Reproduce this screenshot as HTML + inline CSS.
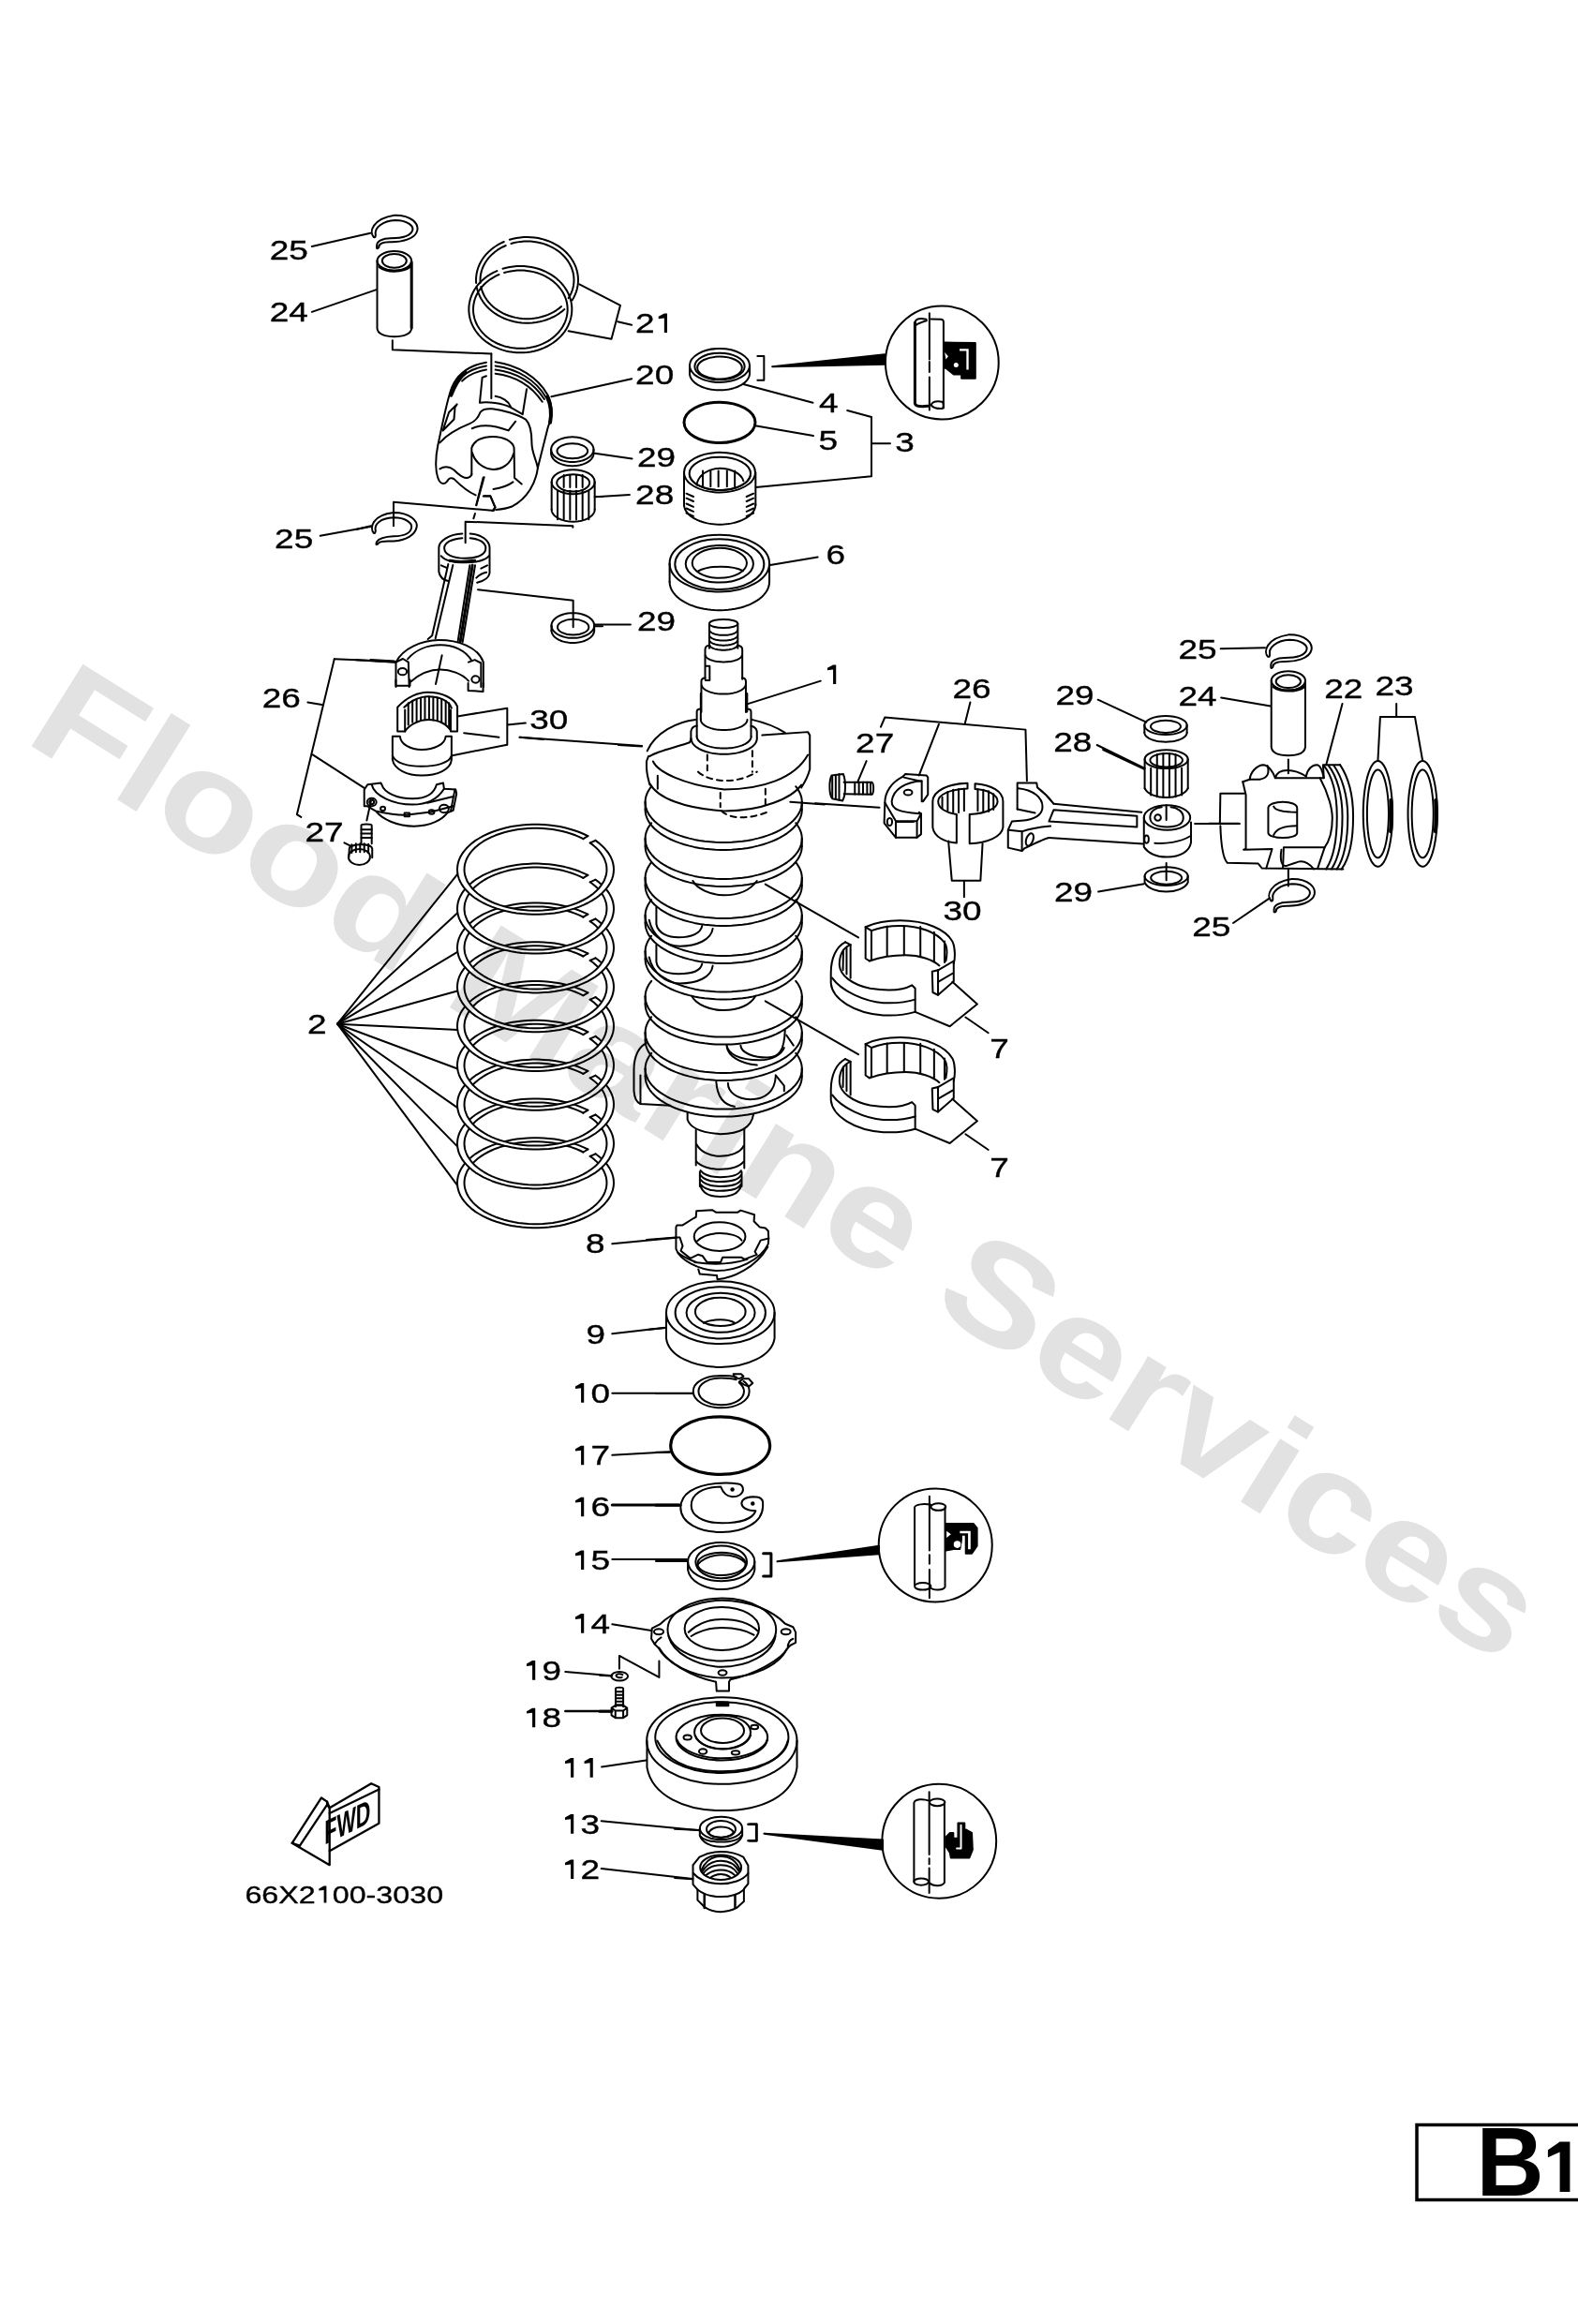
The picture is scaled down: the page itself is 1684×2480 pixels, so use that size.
<!DOCTYPE html>
<html><head><meta charset="utf-8"><style>
html,body{margin:0;padding:0;background:#fff;}
svg{display:block;}
.lb{font-family:"Liberation Sans",sans-serif;fill:#000;stroke:#000;stroke-width:0.35px;}
.wm{font-family:"Liberation Sans",sans-serif;font-weight:bold;fill:#e2e2e2;mix-blend-mode:multiply;}
.b1{font-family:"Liberation Sans",sans-serif;font-weight:bold;fill:#000;}
.d path,.d ellipse,.d line,.d polyline,.d polygon,.d circle,.d rect{fill:none;stroke:#000;vector-effect:non-scaling-stroke;stroke-linecap:round;stroke-linejoin:round;}
.d .f{fill:#000;}
</style></head><body>
<svg width="1684" height="2480" viewBox="0 0 1684 2480">
<rect width="1684" height="2480" fill="#fff"/>
<g class="d" stroke-width="2">
<g transform="translate(250,200) scale(0.166667)" stroke-width="2">
<path d="M893,318 C862,285 885,200 1025,178 C1140,176 1180,235 1172,275 C1160,330 1070,352 995,350 C955,350 925,362 925,385 Q908,402 913,372 C912,345 950,326 1000,326 C1070,326 1132,312 1142,272 C1148,248 1110,210 1030,210 C950,212 896,262 905,302 Q906,324 893,318 Z"/>
<ellipse cx="1025" cy="470" rx="110" ry="62"/>
<ellipse cx="1025" cy="470" rx="78" ry="44"/>
<path d="M930,508 C960,530 1000,535 1025,535 C1060,535 1100,528 1125,508" stroke-width="3"/>
<path d="M915,470 L915,900 C915,940 970,955 1025,955 C1080,955 1135,940 1135,900 L1135,470"/>
<path d="M1135,480 L1135,900" stroke-width="3"/>
<path d="M497,378 L872,292"/>
<path d="M497,797 L910,655"/>
<path d="M1013,980 L1013,1040 L1646,1065"/>
</g>
<g transform="translate(490,230) scale(0.166667)" stroke-width="2"><path d="M323.2,154.6 L345.2,148.6 L367.7,143.9 L390.5,140.6 L413.5,138.6 L436.7,138.0 L459.8,138.8 L482.8,141.0 L505.6,144.5 L528.0,149.4 L550.0,155.6 L571.4,163.1 L592.1,171.8 L612.0,181.8 L631.0,192.9 L649.0,205.1 L666.0,218.3 L681.8,232.6 L696.4,247.7 L709.6,263.7 L721.5,280.4 L731.9,297.8 L740.9,315.8 L748.3,334.2 L754.1,353.1 L758.4,372.2 L761.0,391.6 L762.0,411.0 L761.3,430.5 L759.0,449.9 L755.1,469.1 L749.6,488.0 L742.5,506.5 L733.9,524.6 L723.7,542.1"/><path d="M108.8,432.2 L108.0,412.1 L109.0,392.0 L111.6,372.1 L116.1,352.3 L122.2,332.9 L130.0,313.9 L139.4,295.4 L150.4,277.6 L162.9,260.5 L176.9,244.2 L192.2,228.8 L208.9,214.3 L226.7,201.0 L245.7,188.8 L265.7,177.7 L286.5,168.0"/><path d="M674.2,600.5 L657.6,614.4 L639.9,627.3 L621.2,639.1 L601.5,649.7 L581.0,659.1 L559.7,667.2 L537.8,674.1 L515.4,679.6 L492.5,683.7 L469.4,686.5 L446.0,687.8 L422.7,687.8 L399.4,686.4 L376.2,683.5 L353.4,679.3 L331.0,673.7 L309.1,666.8 L287.9,658.6 L267.4,649.1 L247.7,638.4 L229.1,626.6 L211.4,613.7 L195.0,599.8 L179.7,584.9 L165.8,569.1 L153.2,552.5 L142.1,535.2 L132.4,517.3 L124.3,498.9 L117.8,480.0 L113.0,460.8"/><path d="M332.4,180.0 L352.6,174.5 L373.2,170.3 L394.2,167.3 L415.3,165.5 L436.5,165.0 L457.8,165.7 L478.9,167.7 L499.8,170.9 L520.4,175.2 L540.5,180.8 L560.1,187.6 L579.1,195.5 L597.4,204.5 L614.8,214.5 L631.4,225.5 L646.9,237.5 L661.4,250.3 L674.8,264.0 L686.9,278.4 L697.8,293.4 L707.4,309.1 L715.6,325.3 L722.4,342.0 L727.8,359.0 L731.7,376.2 L734.1,393.7 L735.0,411.2 L734.4,428.8 L732.3,446.3 L728.7,463.6 L723.6,480.6 L717.1,497.3 L709.2,513.6 L699.9,529.4"/><path d="M135.7,430.3 L135.0,412.2 L135.9,394.1 L138.3,376.1 L142.4,358.3 L148.0,340.8 L155.2,323.6 L163.8,307.0 L173.9,290.9 L185.4,275.4 L198.2,260.7 L212.3,246.9 L227.5,233.9 L243.9,221.8 L261.3,210.8 L279.6,200.8 L298.8,192.0"/><path d="M654.4,582.1 L639.2,594.7 L623.0,606.3 L605.8,616.9 L587.8,626.4 L568.9,634.9 L549.4,642.3 L529.3,648.4 L508.7,653.4 L487.8,657.1 L466.5,659.6 L445.1,660.9 L423.7,660.8 L402.3,659.5 L381.1,657.0 L360.1,653.2 L339.6,648.1 L319.5,641.9 L300.0,634.5 L281.2,625.9 L263.2,616.3 L246.1,605.6 L229.9,594.0 L214.8,581.4 L200.8,568.0 L188.0,553.8 L176.5,538.8 L166.3,523.2 L157.4,507.1 L150.0,490.4 L144.0,473.4 L139.6,456.1"/><path d="M279.1,340.7 L301.1,334.7 L323.5,330.0 L346.3,326.7 L369.2,324.7 L392.3,324.0 L415.4,324.7 L438.4,326.7 L461.1,330.1 L483.5,334.9 L505.5,340.9 L526.9,348.2 L547.6,356.7 L567.6,366.5 L586.7,377.4 L604.9,389.3 L622.0,402.4 L638.0,416.3 L652.8,431.2 L666.3,447.0 L678.4,463.5 L689.2,480.6 L698.5,498.4 L706.3,516.6 L712.6,535.3 L717.3,554.3 L720.4,573.5 L721.9,592.8 L721.7,612.2 L720.0,631.5 L716.6,650.7 L711.7,669.7 L705.2,688.3 L697.2,706.4 L687.6,724.1 L676.6,741.2 L664.3,757.5 L650.5,773.1 L635.6,787.9 L619.4,801.7 L602.1,814.6 L583.8,826.4 L564.5,837.1 L544.4,846.7 L523.6,855.0 L502.1,862.1 L480.1,868.0 L457.6,872.5 L434.8,875.7 L411.8,877.5 L388.7,878.0 L365.7,877.1 L342.7,874.9 L320.0,871.3 L297.6,866.4 L275.8,860.2 L254.4,852.8 L233.8,844.1 L213.9,834.2 L194.9,823.2 L176.9,811.1 L159.9,797.9 L144.1,783.8 L129.4,768.8 L116.1,753.0 L104.1,736.4 L93.5,719.2 L84.4,701.3 L76.8,683.0 L70.7,664.3 L66.2,645.3 L63.4,626.1 L62.1,606.7 L62.4,587.3 L64.3,568.0 L67.9,548.8 L73.0,529.9 L79.7,511.4 L88.0,493.3 L97.7,475.7 L108.9,458.7 L121.4,442.4 L135.3,426.9 L150.4,412.3 L166.7,398.6 L184.2,385.8 L202.6,374.2 L222.0,363.6 L242.2,354.2"/><path d="M288.7,366.1 L308.8,360.7 L329.3,356.4 L350.1,353.4 L371.2,351.6 L392.3,351.0 L413.4,351.6 L434.4,353.5 L455.3,356.5 L475.8,360.8 L495.9,366.2 L515.4,372.8 L534.4,380.5 L552.7,389.3 L570.2,399.2 L586.8,410.0 L602.5,421.7 L617.1,434.3 L630.6,447.8 L643.0,462.0 L654.1,476.9 L664.0,492.3 L672.5,508.4 L679.6,524.8 L685.4,541.7 L689.7,558.8 L692.5,576.2 L693.9,593.6 L693.8,611.1 L692.2,628.6 L689.1,645.9 L684.6,663.0 L678.6,679.8 L671.3,696.2 L662.5,712.1 L652.5,727.5 L641.2,742.3 L628.6,756.4 L614.9,769.7 L600.1,782.2 L584.3,793.8 L567.5,804.4 L549.9,814.1 L531.5,822.7 L512.4,830.3 L492.8,836.7 L472.6,841.9 L452.0,846.0 L431.2,848.9 L410.1,850.5 L389.0,851.0 L367.9,850.2 L346.9,848.2 L326.1,845.0 L305.7,840.6 L285.6,835.0 L266.1,828.2 L247.2,820.4 L229.0,811.5 L211.6,801.5 L195.1,790.6 L179.6,778.7 L165.1,766.0 L151.7,752.4 L139.5,738.2 L128.5,723.2 L118.9,707.6 L110.5,691.6 L103.5,675.0 L98.0,658.2 L93.9,641.0 L91.2,623.6 L90.1,606.2 L90.4,588.7 L92.2,571.2 L95.4,553.9 L100.1,536.9 L106.2,520.1 L113.8,503.8 L122.7,487.9 L132.9,472.6 L144.4,457.9 L157.1,443.9 L170.9,430.7 L185.9,418.3 L201.8,406.8 L218.7,396.3 L236.4,386.7 L254.9,378.2"/><path d="M770,440 L1032,575 L975,790 L700,740"/><path d="M1015,680 L1105,700"/><path d="M590,1160 L1105,1045"/></g>
<g transform="translate(450,370) scale(0.107735)" stroke-width="2">
<path d="M640,155 C470,185 360,260 300,400 C250,520 200,800 160,980 C135,1100 130,1250 175,1330 C195,1362 225,1365 250,1335 C270,1305 290,1290 320,1310 C380,1370 440,1430 535,1470"/>
<path d="M730,150 C950,180 1150,300 1250,480 C1300,580 1290,700 1250,800 L1150,1200 C1130,1350 1050,1500 900,1580 C850,1600 790,1610 735,1615"/>
<path d="M730,190 C950,220 1130,330 1230,500"/>
<path d="M730,228 C940,255 1110,360 1215,520"/>
<path d="M730,266 C930,290 1090,390 1195,545"/>
<path d="M640,190 C500,215 430,260 380,320"/>
<path d="M640,228 C520,250 450,290 400,340"/>
<path d="M1245,500 C1282,580 1292,650 1272,750" stroke-width="4"/>
<path d="M430,255 C370,310 325,390 290,480" stroke-width="4"/>
<path d="M640,290 L600,305 L575,555 C650,540 800,560 880,600 L1000,670 L1040,420"/>
<path d="M730,490 C800,500 860,540 880,590"/>
<path d="M500,810 C580,770 700,770 860,830 L930,740"/>
<path d="M180,950 C250,870 380,800 480,760 C530,740 560,700 580,650 C600,620 640,610 700,615 C800,625 950,670 1030,720 C1080,770 1090,850 1090,950 C1090,1050 1130,1100 1150,1200"/>
<path d="M350,570 L330,600 L320,720 L210,830 L270,650 Z"/>
<path d="M495,1270 L495,1000 C520,930 600,890 705,890 C820,890 900,940 915,1000 L920,1300 L990,1360"/>
<path d="M500,1050 C530,1150 620,1215 710,1215 C800,1215 880,1160 910,1060"/>
<path d="M180,1210 C230,1180 280,1190 320,1220 C360,1260 400,1300 440,1300 C470,1300 495,1280 495,1260"/>
<path d="M540,1570 L610,1295"/>
<path d="M610,1480 L680,1480 L730,1590 L700,1625"/>
<path d="M710,1410 C780,1400 850,1380 905,1340"/>
<path d="M690,70 L690,510"/>
</g>
<g transform="translate(380,470) scale(0.166667)" stroke-width="2"><path d="M1521.0,58.0 L1520.7,63.6 L1519.7,69.1 L1518.0,74.6 L1515.7,80.1 L1512.8,85.4 L1509.2,90.5 L1505.1,95.6 L1500.3,100.4 L1495.0,105.0 L1489.2,109.4 L1482.8,113.6 L1476.0,117.5 L1468.7,121.0 L1461.1,124.3 L1453.0,127.3 L1444.6,129.9 L1435.9,132.2 L1427.0,134.1 L1417.9,135.6 L1408.6,136.8 L1399.2,137.6 L1389.7,138.0 L1380.3,138.0 L1370.8,137.6 L1361.4,136.8 L1352.1,135.6 L1343.0,134.1 L1334.1,132.2 L1325.4,129.9 L1317.0,127.3 L1308.9,124.3 L1301.3,121.0 L1294.0,117.5 L1287.2,113.6 L1280.8,109.4 L1275.0,105.0 L1269.7,100.4 L1264.9,95.6 L1260.8,90.5 L1257.2,85.4 L1254.3,80.1 L1252.0,74.6 L1250.3,69.1 L1249.3,63.6 L1249.0,58.0 L1249.3,52.4 L1250.3,46.9 L1252.0,41.4 L1254.3,35.9 L1257.2,30.6 L1260.8,25.5 L1264.9,20.4 L1269.7,15.6 L1275.0,11.0 L1280.8,6.6 L1287.2,2.4 L1294.0,-1.5 L1301.3,-5.0 L1308.9,-8.3 L1317.0,-11.3 L1325.4,-13.9 L1334.1,-16.2 L1343.0,-18.1 L1352.1,-19.6 L1361.4,-20.8 L1370.8,-21.6 L1380.3,-22.0 L1389.7,-22.0 L1399.2,-21.6 L1408.6,-20.8 L1417.9,-19.6 L1427.0,-18.1 L1435.9,-16.2 L1444.6,-13.9 L1453.0,-11.3 L1461.1,-8.3 L1468.7,-5.0 L1476.0,-1.5 L1482.8,2.4 L1489.2,6.6 L1495.0,11.0 L1500.3,15.6 L1505.1,20.4 L1509.2,25.5 L1512.8,30.6 L1515.7,35.9 L1518.0,41.4 L1519.7,46.9 L1520.7,52.4 L1521.0,58.0"/><ellipse cx="1385" cy="68" rx="98" ry="48"/><path d="M1521.0,83.0 L1520.7,88.6 L1519.7,94.1 L1518.0,99.6 L1515.7,105.1 L1512.8,110.4 L1509.2,115.5 L1505.1,120.6 L1500.3,125.4 L1495.0,130.0 L1489.2,134.4 L1482.8,138.6 L1476.0,142.5 L1468.7,146.0 L1461.1,149.3 L1453.0,152.3 L1444.6,154.9 L1435.9,157.2 L1427.0,159.1 L1417.9,160.6 L1408.6,161.8 L1399.2,162.6 L1389.7,163.0 L1380.3,163.0 L1370.8,162.6 L1361.4,161.8 L1352.1,160.6 L1343.0,159.1 L1334.1,157.2 L1325.4,154.9 L1317.0,152.3 L1308.9,149.3 L1301.3,146.0 L1294.0,142.5 L1287.2,138.6 L1280.8,134.4 L1275.0,130.0 L1269.7,125.4 L1264.9,120.6 L1260.8,115.5 L1257.2,110.4 L1254.3,105.1 L1252.0,99.6 L1250.3,94.1 L1249.3,88.6 L1249.0,83.0"/><path d="M1249,58 L1249,83"/><path d="M1521,58 L1521,83"/><ellipse cx="1390" cy="265" rx="138" ry="78"/><ellipse cx="1390" cy="272" rx="105" ry="55"/><path d="M1252,265 L1252,442"/><path d="M1528,265 L1528,442"/><path d="M1528.0,442.0 L1527.7,447.4 L1526.7,452.9 L1525.0,458.2 L1522.7,463.5 L1519.7,468.7 L1516.1,473.7 L1511.8,478.6 L1507.0,483.3 L1501.6,487.8 L1495.7,492.1 L1489.3,496.2 L1482.3,500.0 L1475.0,503.5 L1467.2,506.7 L1459.0,509.5 L1450.5,512.1 L1441.7,514.3 L1432.6,516.2 L1423.4,517.7 L1414.0,518.8 L1404.4,519.6 L1394.8,520.0 L1385.2,520.0 L1375.6,519.6 L1366.0,518.8 L1356.6,517.7 L1347.4,516.2 L1338.3,514.3 L1329.5,512.1 L1321.0,509.5 L1312.8,506.7 L1305.0,503.5 L1297.7,500.0 L1290.7,496.2 L1284.3,492.1 L1278.4,487.8 L1273.0,483.3 L1268.2,478.6 L1263.9,473.7 L1260.3,468.7 L1257.3,463.5 L1255.0,458.2 L1253.3,452.9 L1252.3,447.4 L1252.0,442.0"/><path d="M1290,322 L1290,505"/><path d="M1330,322 L1330,505"/><path d="M1370,322 L1370,505"/><path d="M1410,322 L1410,505"/><path d="M1450,322 L1450,505"/><path d="M1490,322 L1490,505"/><path d="M1330,222 L1330,300"/><path d="M1370,222 L1370,300"/><path d="M1410,222 L1410,300"/><path d="M1450,222 L1450,300"/><path d="M1528,360 L1578,360"/><path d="M112,592 C88,560 100,478 240,462 C350,462 396,520 388,555 C378,605 320,640 240,645 C195,647 150,640 140,662 Q122,674 132,650 C150,622 190,616 240,614 C310,612 352,590 355,555 C358,530 320,494 240,494 C150,498 115,540 125,578 Q122,600 112,592 Z"/><path d="M240,548 L240,395 L870,448"/><path d="M0,570 L95,548"/><path d="M680,597 C600,600 530,640 530,688 L530,840 C535,875 560,895 595,902"/><path d="M730,597 C800,600 855,640 855,688 L855,850 C850,880 820,900 775,910"/><path d="M680,625 C610,630 565,655 565,690 C565,730 620,755 697,755 C780,755 830,730 830,690 C830,655 790,630 730,625"/><path d="M545,740 C570,770 620,782 697,782 C770,782 830,765 850,740"/><path d="M600,770 C640,778 700,778 760,770" stroke-width="3"/><path d="M700,655 L700,520 L1388,547 L1388,556"/><path d="M590,792 L487,1250 L460,1272"/><path d="M620,798 L508,1268"/><path d="M728,800 L652,1285"/><path d="M762,800 L682,1290"/><path d="M745,800 L667,1288" stroke-width="3"/><path d="M545,800 L580,815"/><path d="M800,820 L840,800"/><path d="M770,880 C790,860 810,850 835,845"/><path d="M255,1420 C300,1330 420,1280 530,1278 C650,1278 780,1320 815,1420 L815,1578"/><path d="M330,1400 C380,1340 460,1310 540,1310 C620,1310 700,1340 740,1410"/><path d="M350,1545 C420,1482 490,1467 540,1467 C600,1467 680,1492 720,1540"/><path d="M255,1420 L255,1578"/><path d="M255,1420 L300,1398 L335,1420 L340,1578"/><path d="M720,1420 L760,1405 L800,1425 L800,1578"/><ellipse cx="297" cy="1480" rx="28" ry="22"/><ellipse cx="765" cy="1530" rx="25" ry="22"/><path d="M510,1560 L550,1375"/><path d="M0,1405 L255,1420"/><path d="M1525.0,1185.0 L1524.7,1190.6 L1523.7,1196.1 L1522.0,1201.6 L1519.7,1207.1 L1516.7,1212.4 L1513.2,1217.5 L1509.0,1222.6 L1504.2,1227.4 L1498.8,1232.0 L1492.9,1236.4 L1486.5,1240.6 L1479.7,1244.5 L1472.3,1248.0 L1464.6,1251.3 L1456.5,1254.3 L1448.1,1256.9 L1439.3,1259.2 L1430.3,1261.1 L1421.1,1262.6 L1411.8,1263.8 L1402.3,1264.6 L1392.8,1265.0 L1383.2,1265.0 L1373.7,1264.6 L1364.2,1263.8 L1354.9,1262.6 L1345.7,1261.1 L1336.7,1259.2 L1327.9,1256.9 L1319.5,1254.3 L1311.4,1251.3 L1303.7,1248.0 L1296.3,1244.5 L1289.5,1240.6 L1283.1,1236.4 L1277.2,1232.0 L1271.8,1227.4 L1267.0,1222.6 L1262.8,1217.5 L1259.3,1212.4 L1256.3,1207.1 L1254.0,1201.6 L1252.3,1196.1 L1251.3,1190.6 L1251.0,1185.0 L1251.3,1179.4 L1252.3,1173.9 L1254.0,1168.4 L1256.3,1162.9 L1259.3,1157.6 L1262.8,1152.5 L1267.0,1147.4 L1271.8,1142.6 L1277.2,1138.0 L1283.1,1133.6 L1289.5,1129.4 L1296.3,1125.5 L1303.7,1122.0 L1311.4,1118.7 L1319.5,1115.7 L1327.9,1113.1 L1336.7,1110.8 L1345.7,1108.9 L1354.9,1107.4 L1364.2,1106.2 L1373.7,1105.4 L1383.2,1105.0 L1392.8,1105.0 L1402.3,1105.4 L1411.8,1106.2 L1421.1,1107.4 L1430.3,1108.9 L1439.3,1110.8 L1448.1,1113.1 L1456.5,1115.7 L1464.6,1118.7 L1472.3,1122.0 L1479.7,1125.5 L1486.5,1129.4 L1492.9,1133.6 L1498.8,1138.0 L1504.2,1142.6 L1509.0,1147.4 L1513.2,1152.5 L1516.7,1157.6 L1519.7,1162.9 L1522.0,1168.4 L1523.7,1173.9 L1524.7,1179.4 L1525.0,1185.0"/><ellipse cx="1390" cy="1195" rx="100" ry="50"/><path d="M1525.0,1216.0 L1524.7,1221.6 L1523.7,1227.1 L1522.0,1232.6 L1519.7,1238.1 L1516.7,1243.4 L1513.2,1248.5 L1509.0,1253.6 L1504.2,1258.4 L1498.8,1263.0 L1492.9,1267.4 L1486.5,1271.6 L1479.7,1275.5 L1472.3,1279.0 L1464.6,1282.3 L1456.5,1285.3 L1448.1,1287.9 L1439.3,1290.2 L1430.3,1292.1 L1421.1,1293.6 L1411.8,1294.8 L1402.3,1295.6 L1392.8,1296.0 L1383.2,1296.0 L1373.7,1295.6 L1364.2,1294.8 L1354.9,1293.6 L1345.7,1292.1 L1336.7,1290.2 L1327.9,1287.9 L1319.5,1285.3 L1311.4,1282.3 L1303.7,1279.0 L1296.3,1275.5 L1289.5,1271.6 L1283.1,1267.4 L1277.2,1263.0 L1271.8,1258.4 L1267.0,1253.6 L1262.8,1248.5 L1259.3,1243.4 L1256.3,1238.1 L1254.0,1232.6 L1252.3,1227.1 L1251.3,1221.6 L1251.0,1216.0"/><path d="M1251,1185 L1251,1216"/><path d="M1525,1185 L1525,1216"/><path d="M780,955 L1390,1025 L1390,1195"/><path d="M1528,1190 L1578,1190"/><path d="M770,415 L820,235"/><path d="M752,500 L762,468"/><path d="M820,355 L860,355 L890,430 L880,450"/></g>
<g transform="translate(710,340) scale(0.166667)" stroke-width="2"><ellipse cx="348" cy="300" rx="192" ry="108"/><ellipse cx="348" cy="306" rx="160" ry="86"/><ellipse cx="348" cy="315" rx="143" ry="72"/><path d="M540.0,350.0 L539.5,357.5 L538.1,365.0 L535.8,372.5 L532.6,379.8 L528.4,386.9 L523.4,393.9 L517.5,400.7 L510.8,407.2 L503.3,413.5 L495.1,419.4 L486.1,425.0 L476.5,430.3 L466.2,435.1 L455.4,439.5 L444.0,443.5 L432.2,447.1 L419.9,450.1 L407.3,452.7 L394.4,454.8 L381.3,456.4 L368.1,457.4 L354.7,457.9 L341.3,457.9 L327.9,457.4 L314.7,456.4 L301.6,454.8 L288.7,452.7 L276.1,450.1 L263.8,447.1 L252.0,443.5 L240.6,439.5 L229.8,435.1 L219.5,430.3 L209.9,425.0 L200.9,419.4 L192.7,413.5 L185.2,407.2 L178.5,400.7 L172.6,393.9 L167.6,386.9 L163.4,379.8 L160.2,372.5 L157.9,365.0 L156.5,357.5 L156.0,350.0"/><path d="M156,300 L156,350"/><path d="M540,300 L540,350"/><path d="M590,240 L632,240 L632,395 L590,395"/><path d="M685,308 L1405,230 L1405,292 Z" class="f"/><path d="M500,420 L945,538"/><ellipse cx="348" cy="665" rx="228" ry="130" stroke-width="3"/><path d="M575,685 L948,750"/><ellipse cx="348" cy="985" rx="228" ry="128"/><ellipse cx="350" cy="992" rx="196" ry="106"/><path d="M200,1065 C210,1000 280,958 350,958 C420,958 490,995 500,1040"/><path d="M240,975 L240,1075"/><path d="M290,975 L290,1075"/><path d="M340,975 L340,1075"/><path d="M395,975 L395,1075"/><path d="M445,975 L445,1075"/><path d="M543.0,1010.4 L540.2,1017.6 L536.4,1024.8 L531.7,1031.7 L526.2,1038.5 L519.7,1045.0 L512.5,1051.3 L504.5,1057.3 L495.7,1062.9 L486.2,1068.3 L476.0,1073.2 L465.2,1077.8 L453.9,1081.9 L442.0,1085.6 L429.7,1088.8 L417.0,1091.6 L404.0,1093.9 L390.8,1095.7 L377.3,1097.0 L363.7,1097.7 L350.0,1098.0 L336.3,1097.7 L322.7,1097.0 L309.2,1095.7 L296.0,1093.9 L283.0,1091.6 L270.3,1088.8 L258.0,1085.6 L246.1,1081.9 L234.8,1077.8 L224.0,1073.2 L213.8,1068.3 L204.3,1062.9 L195.5,1057.3 L187.5,1051.3 L180.3,1045.0 L173.8,1038.5 L168.3,1031.7 L163.6,1024.8 L159.8,1017.6 L157.0,1010.4"/><path d="M120,985 L120,1195"/><path d="M578,985 L578,1195"/><path d="M578.0,1190.0 L577.4,1198.9 L575.8,1207.8 L573.0,1216.6 L569.1,1225.3 L564.2,1233.8 L558.2,1242.1 L551.2,1250.1 L543.2,1257.8 L534.3,1265.2 L524.4,1272.3 L513.7,1278.9 L502.2,1285.1 L490.0,1290.9 L477.1,1296.1 L463.5,1300.9 L449.4,1305.0 L434.8,1308.7 L419.8,1311.7 L404.4,1314.2 L388.8,1316.1 L372.9,1317.3 L357.0,1317.9 L341.0,1317.9 L325.1,1317.3 L309.2,1316.1 L293.6,1314.2 L278.2,1311.7 L263.2,1308.7 L248.6,1305.0 L234.5,1300.9 L220.9,1296.1 L208.0,1290.9 L195.8,1285.1 L184.3,1278.9 L173.6,1272.3 L163.7,1265.2 L154.8,1257.8 L146.8,1250.1 L139.8,1242.1 L133.8,1233.8 L128.9,1225.3 L125.0,1216.6 L122.2,1207.8 L120.6,1198.9 L120.0,1190.0"/><path d="M135,1120 L180,1140"/><path d="M565,1120 L520,1140"/><path d="M135,1150 L180,1170"/><path d="M565,1150 L520,1170"/><path d="M135,1185 L180,1205"/><path d="M565,1185 L520,1205"/><path d="M135,1215 L180,1235"/><path d="M565,1215 L520,1235"/><path d="M135,1245 L180,1265"/><path d="M565,1245 L520,1265"/><path d="M580,1080 L1320,1010 L1320,630 L1165,588"/><path d="M1320,800 L1440,800"/></g>
<g transform="translate(940,320) scale(0.083647)" stroke-width="2">
<circle cx="781" cy="801" r="722"/>
<path d="M435,300 C435,250 480,238 520,240 L580,248"/>
<path d="M640,245 L770,248 C790,250 800,265 800,285 L800,1380"/>
<path d="M435,290 L435,1320 C440,1355 500,1365 600,1355" stroke-width="3"/>
<path d="M455,320 C470,300 520,285 585,265"/>
<path d="M640,1340 C660,1300 720,1290 780,1300 C805,1310 805,1380 780,1388 C720,1390 660,1370 640,1340"/>
<path d="M620,170 L620,760 M620,790 L620,920 M620,985 L620,1405"/>
<path class="f" d="M805,545 L1205,550 L1205,1000 L1030,1000 L1030,950 L930,950 L830,870 L805,870 Z"/>
<path d="M815,670 L860,720 L830,760 Z" style="fill:#fff;stroke:none"/>
<path d="M1005,625 L1120,625 L1120,890 L1092,890 L1092,652 L1005,652 Z" style="fill:#fff;stroke:none"/>
<circle cx="960" cy="830" r="30" style="fill:#fff;stroke:none"/>
</g>
<g transform="translate(680,560) scale(0.126743)" stroke-width="2"><ellipse cx="693" cy="325" rx="420" ry="240"/><ellipse cx="693" cy="332" rx="375" ry="212"/><ellipse cx="693" cy="330" rx="285" ry="156"/><ellipse cx="693" cy="322" rx="230" ry="126"/><path d="M510,392 C600,342 800,338 890,388"/><path d="M273,325 L273,480"/><path d="M1113,325 L1113,480"/><path d="M1113.0,480.0 L1112.0,496.7 L1108.9,513.4 L1103.8,529.9 L1096.7,546.2 L1087.7,562.1 L1076.7,577.6 L1063.8,592.7 L1049.2,607.2 L1032.8,621.1 L1014.7,634.3 L995.1,646.7 L974.0,658.4 L951.6,669.1 L927.9,679.0 L903.0,687.8 L877.1,695.7 L850.3,702.5 L822.8,708.3 L794.6,712.9 L765.9,716.4 L736.9,718.7 L707.7,719.9 L678.3,719.9 L649.1,718.7 L620.1,716.4 L591.4,712.9 L563.2,708.3 L535.7,702.5 L508.9,695.7 L483.0,687.8 L458.1,679.0 L434.4,669.1 L412.0,658.4 L390.9,646.7 L371.3,634.3 L353.2,621.1 L336.8,607.2 L322.2,592.7 L309.3,577.6 L298.3,562.1 L289.3,546.2 L282.2,529.9 L277.1,513.4 L274.0,496.7 L273.0,480.0"/><path d="M1120,340 L1520,272"/><ellipse cx="727" cy="832" rx="120" ry="36"/><path d="M607,835 L607,1040"/><path d="M847,835 L847,1040"/><path d="M843.2,892.8 L841.5,895.9 L839.2,898.9 L836.4,901.9 L833.1,904.7 L829.2,907.5 L824.8,910.2 L820.0,912.7 L814.7,915.1 L809.0,917.4 L802.8,919.5 L796.4,921.4 L789.5,923.2 L782.4,924.7 L775.0,926.1 L767.4,927.3 L759.5,928.3 L751.5,929.0 L743.4,929.6 L735.2,929.9 L727.0,930.0 L718.8,929.9 L710.6,929.6 L702.5,929.0 L694.5,928.3 L686.6,927.3 L679.0,926.1 L671.6,924.7 L664.5,923.2 L657.6,921.4 L651.2,919.5 L645.0,917.4 L639.3,915.1 L634.0,912.7 L629.2,910.2 L624.8,907.5 L620.9,904.7 L617.6,901.9 L614.8,898.9 L612.5,895.9 L610.8,892.8"/><path d="M843.2,937.8 L841.5,940.9 L839.2,943.9 L836.4,946.9 L833.1,949.7 L829.2,952.5 L824.8,955.2 L820.0,957.7 L814.7,960.1 L809.0,962.4 L802.8,964.5 L796.4,966.4 L789.5,968.2 L782.4,969.7 L775.0,971.1 L767.4,972.3 L759.5,973.3 L751.5,974.0 L743.4,974.6 L735.2,974.9 L727.0,975.0 L718.8,974.9 L710.6,974.6 L702.5,974.0 L694.5,973.3 L686.6,972.3 L679.0,971.1 L671.6,969.7 L664.5,968.2 L657.6,966.4 L651.2,964.5 L645.0,962.4 L639.3,960.1 L634.0,957.7 L629.2,955.2 L624.8,952.5 L620.9,949.7 L617.6,946.9 L614.8,943.9 L612.5,940.9 L610.8,937.8"/><path d="M843.2,977.8 L841.5,980.9 L839.2,983.9 L836.4,986.9 L833.1,989.7 L829.2,992.5 L824.8,995.2 L820.0,997.7 L814.7,1000.1 L809.0,1002.4 L802.8,1004.5 L796.4,1006.4 L789.5,1008.2 L782.4,1009.7 L775.0,1011.1 L767.4,1012.3 L759.5,1013.3 L751.5,1014.0 L743.4,1014.6 L735.2,1014.9 L727.0,1015.0 L718.8,1014.9 L710.6,1014.6 L702.5,1014.0 L694.5,1013.3 L686.6,1012.3 L679.0,1011.1 L671.6,1009.7 L664.5,1008.2 L657.6,1006.4 L651.2,1004.5 L645.0,1002.4 L639.3,1000.1 L634.0,997.7 L629.2,995.2 L624.8,992.5 L620.9,989.7 L617.6,986.9 L614.8,983.9 L612.5,980.9 L610.8,977.8"/><path d="M843.2,1017.8 L841.5,1020.9 L839.2,1023.9 L836.4,1026.9 L833.1,1029.7 L829.2,1032.5 L824.8,1035.2 L820.0,1037.7 L814.7,1040.1 L809.0,1042.4 L802.8,1044.5 L796.4,1046.4 L789.5,1048.2 L782.4,1049.7 L775.0,1051.1 L767.4,1052.3 L759.5,1053.3 L751.5,1054.0 L743.4,1054.6 L735.2,1054.9 L727.0,1055.0 L718.8,1054.9 L710.6,1054.6 L702.5,1054.0 L694.5,1053.3 L686.6,1052.3 L679.0,1051.1 L671.6,1049.7 L664.5,1048.2 L657.6,1046.4 L651.2,1044.5 L645.0,1042.4 L639.3,1040.1 L634.0,1037.7 L629.2,1035.2 L624.8,1032.5 L620.9,1029.7 L617.6,1026.9 L614.8,1023.9 L612.5,1020.9 L610.8,1017.8"/><path d="M572,1300 L572,1050 C572,1025 595,1015 610,1015 M885,1300 L885,1050 C885,1030 870,1018 850,1015"/><path d="M882.4,1100.2 L881.1,1104.4 L879.0,1108.6 L876.1,1112.7 L872.5,1116.7 L868.2,1120.6 L863.2,1124.3 L857.5,1128.0 L851.2,1131.4 L844.2,1134.7 L836.7,1137.8 L828.6,1140.6 L820.0,1143.3 L811.0,1145.7 L801.6,1147.8 L791.7,1149.7 L781.6,1151.3 L771.2,1152.6 L760.6,1153.7 L749.8,1154.4 L738.9,1154.9 L728.0,1155.0 L717.1,1154.9 L706.2,1154.4 L695.4,1153.7 L684.8,1152.6 L674.4,1151.3 L664.3,1149.7 L654.4,1147.8 L645.0,1145.7 L636.0,1143.3 L627.4,1140.6 L619.3,1137.8 L611.8,1134.7 L604.8,1131.4 L598.5,1128.0 L592.8,1124.3 L587.8,1120.6 L583.5,1116.7 L579.9,1112.7 L577.0,1108.6 L574.9,1104.4 L573.6,1100.2"/><path d="M575,1190 L610,1190 L610,1310 L575,1310"/><path d="M540,1578 L540,1320 C540,1300 555,1290 572,1290 M915,1578 L915,1320 C915,1300 900,1290 885,1290"/><path d="M911.3,1352.0 L909.7,1357.6 L907.2,1363.1 L903.8,1368.6 L899.5,1373.9 L894.3,1379.1 L888.4,1384.1 L881.6,1389.0 L874.0,1393.6 L865.7,1397.9 L856.7,1402.0 L847.1,1405.9 L836.9,1409.4 L826.1,1412.6 L814.8,1415.4 L803.1,1417.9 L791.0,1420.1 L778.6,1421.8 L765.9,1423.2 L753.1,1424.2 L740.1,1424.8 L727.0,1425.0 L713.9,1424.8 L700.9,1424.2 L688.1,1423.2 L675.4,1421.8 L663.0,1420.1 L650.9,1417.9 L639.2,1415.4 L627.9,1412.6 L617.1,1409.4 L606.9,1405.9 L597.3,1402.0 L588.3,1397.9 L580.0,1393.6 L572.4,1389.0 L565.6,1384.1 L559.7,1379.1 L554.5,1373.9 L550.2,1368.6 L546.8,1363.1 L544.3,1357.6 L542.7,1352.0"/><path d="M925,1510 L1545,1315"/></g>
<g transform="translate(660,740) scale(0.139412)" stroke-width="2"><path d="M630,0 L630,200"/><path d="M985,0 L985,140"/><path d="M986.0,200.0 L985.6,205.6 L984.3,211.1 L982.1,216.6 L979.1,222.1 L975.3,227.4 L970.6,232.5 L965.2,237.6 L959.0,242.4 L952.0,247.0 L944.4,251.4 L936.0,255.6 L927.1,259.5 L917.6,263.0 L907.5,266.3 L897.0,269.3 L886.0,271.9 L874.7,274.2 L863.0,276.1 L851.1,277.6 L838.9,278.8 L826.6,279.6 L814.2,280.0 L801.8,280.0 L789.4,279.6 L777.1,278.8 L764.9,277.6 L753.0,276.1 L741.3,274.2 L730.0,271.9 L719.0,269.3 L708.5,266.3 L698.4,263.0 L688.9,259.5 L680.0,255.6 L671.6,251.4 L664.0,247.0 L657.0,242.4 L650.8,237.6 L645.4,232.5 L640.7,227.4 L636.9,222.1 L633.9,216.6 L631.7,211.1 L630.4,205.6 L630.0,200.0"/><path d="M600,330 L600,140 C600,125 615,118 630,118 M1015,330 L1015,140 C1015,125 1000,118 985,118"/><path d="M1016.0,330.0 L1015.5,336.3 L1014.0,342.5 L1011.5,348.7 L1007.9,354.8 L1003.5,360.8 L998.0,366.6 L991.7,372.3 L984.4,377.7 L976.3,382.9 L967.3,387.9 L957.6,392.5 L947.2,396.9 L936.1,400.9 L924.3,404.6 L912.0,407.9 L899.2,410.9 L885.9,413.4 L872.3,415.6 L858.3,417.3 L844.1,418.6 L829.7,419.5 L815.3,419.9 L800.7,419.9 L786.3,419.5 L771.9,418.6 L757.7,417.3 L743.7,415.6 L730.1,413.4 L716.8,410.9 L704.0,407.9 L691.7,404.6 L679.9,400.9 L668.8,396.9 L658.4,392.5 L648.7,387.9 L639.7,382.9 L631.6,377.7 L624.3,372.3 L618.0,366.6 L612.5,360.8 L608.1,354.8 L604.5,348.7 L602.0,342.5 L600.5,336.3 L600.0,330.0"/><path d="M555,350 L555,290 C560,260 580,250 600,248 M1060,340 L1060,290 C1055,265 1040,255 1015,250"/><path d="M1060.0,345.0 L1059.4,353.4 L1057.5,361.7 L1054.5,369.9 L1050.2,378.1 L1044.8,386.0 L1038.2,393.8 L1030.5,401.3 L1021.7,408.6 L1011.9,415.5 L1001.0,422.1 L989.3,428.4 L976.6,434.2 L963.1,439.6 L948.9,444.5 L934.0,448.9 L918.5,452.9 L902.4,456.3 L885.9,459.1 L869.0,461.4 L851.8,463.2 L834.3,464.3 L816.8,464.9 L799.2,464.9 L781.7,464.3 L764.2,463.2 L747.0,461.4 L730.1,459.1 L713.6,456.3 L697.5,452.9 L682.0,448.9 L667.1,444.5 L652.9,439.6 L639.4,434.2 L626.7,428.4 L615.0,422.1 L604.1,415.5 L594.3,408.6 L585.5,401.3 L577.8,393.8 L571.2,386.0 L565.8,378.1 L561.5,369.9 L558.5,361.7 L556.6,353.4 L556.0,345.0"/><path d="M220,440 C280,300 450,215 590,200"/><path d="M1020,200 C1130,225 1220,265 1275,300"/><path d="M1100,320 L1450,295 L1465,320 L1465,580 C1450,640 1420,690 1400,720"/><path d="M240,480 C300,440 450,410 545,375 L555,350"/><path d="M230,480 L215,520 L215,560 C215,620 230,660 240,700"/><path d="M265,520 C300,600 500,700 810,735 C1100,735 1350,650 1450,470"/><path d="M300,630 L300,730"/><path d="M240,690 C300,800 500,880 810,900 C1100,900 1330,800 1400,700"/><path d="M680,470 L680,590 M1025,440 L1025,600 M610,600 C700,680 900,700 1060,600" stroke-width="2" stroke-dasharray="6 5"/><path d="M780,760 L780,870 M1125,730 L1125,880 M790,900 C850,960 1000,970 1160,900" stroke-width="2" stroke-dasharray="6 5"/><path d="M0,395 L180,405"/><path d="M1315,830 L1578,850"/></g>
<g><path d="M855.8,856.0 L855.6,859.0 L855.0,862.0 L854.0,864.9 L852.6,867.9 L850.8,870.7 L848.6,873.5 L846.0,876.2 L843.1,878.8 L839.8,881.3 L836.2,883.6 L832.3,885.9 L828.1,888.0 L823.7,889.9 L818.9,891.6 L814.0,893.2 L808.8,894.6 L803.5,895.9 L798.0,896.9 L792.4,897.7 L786.7,898.3 L780.9,898.8 L775.1,899.0 L769.3,899.0 L763.5,898.8 L757.7,898.3 L752.0,897.7 L746.4,896.9 L740.9,895.9 L735.6,894.6 L730.4,893.2 L725.5,891.6 L720.7,889.9 L716.3,888.0 L712.1,885.9 L708.2,883.6 L704.6,881.3 L701.3,878.8 L698.4,876.2 L695.8,873.5 L693.6,870.7 L691.8,867.9 L690.4,864.9 L689.4,862.0 L688.8,859.0 L688.6,856.0"/><path d="M855.8,864.0 L855.6,867.0 L855.0,870.0 L854.0,872.9 L852.6,875.9 L850.8,878.7 L848.6,881.5 L846.0,884.2 L843.1,886.8 L839.8,889.3 L836.2,891.6 L832.3,893.9 L828.1,896.0 L823.7,897.9 L818.9,899.6 L814.0,901.2 L808.8,902.6 L803.5,903.9 L798.0,904.9 L792.4,905.7 L786.7,906.3 L780.9,906.8 L775.1,907.0 L769.3,907.0 L763.5,906.8 L757.7,906.3 L752.0,905.7 L746.4,904.9 L740.9,903.9 L735.6,902.6 L730.4,901.2 L725.5,899.6 L720.7,897.9 L716.3,896.0 L712.1,893.9 L708.2,891.6 L704.6,889.3 L701.3,886.8 L698.4,884.2 L695.8,881.5 L693.6,878.7 L691.8,875.9 L690.4,872.9 L689.4,870.0 L688.8,867.0 L688.6,864.0"/><path d="M688.6,856.0 L688.7,853.8 L689.0,851.7 L689.5,849.6 L690.3,847.4 L691.2,845.3 L692.4,843.2 L693.7,841.2 L695.2,839.2"/><path d="M849.2,839.2 L850.7,841.2 L852.0,843.2 L853.2,845.3 L854.1,847.4 L854.9,849.6 L855.4,851.7 L855.7,853.8 L855.8,856.0"/><path d="M688.6,856 L688.6,864"/><path d="M855.8000000000001,856 L855.8000000000001,864"/><path d="M855.8,895.0 L855.6,898.0 L855.0,901.0 L854.0,903.9 L852.6,906.9 L850.8,909.7 L848.6,912.5 L846.0,915.2 L843.1,917.8 L839.8,920.3 L836.2,922.6 L832.3,924.9 L828.1,927.0 L823.7,928.9 L818.9,930.6 L814.0,932.2 L808.8,933.6 L803.5,934.9 L798.0,935.9 L792.4,936.7 L786.7,937.3 L780.9,937.8 L775.1,938.0 L769.3,938.0 L763.5,937.8 L757.7,937.3 L752.0,936.7 L746.4,935.9 L740.9,934.9 L735.6,933.6 L730.4,932.2 L725.5,930.6 L720.7,928.9 L716.3,927.0 L712.1,924.9 L708.2,922.6 L704.6,920.3 L701.3,917.8 L698.4,915.2 L695.8,912.5 L693.6,909.7 L691.8,906.9 L690.4,903.9 L689.4,901.0 L688.8,898.0 L688.6,895.0"/><path d="M855.8,903.0 L855.6,906.0 L855.0,909.0 L854.0,911.9 L852.6,914.9 L850.8,917.7 L848.6,920.5 L846.0,923.2 L843.1,925.8 L839.8,928.3 L836.2,930.6 L832.3,932.9 L828.1,935.0 L823.7,936.9 L818.9,938.6 L814.0,940.2 L808.8,941.6 L803.5,942.9 L798.0,943.9 L792.4,944.7 L786.7,945.3 L780.9,945.8 L775.1,946.0 L769.3,946.0 L763.5,945.8 L757.7,945.3 L752.0,944.7 L746.4,943.9 L740.9,942.9 L735.6,941.6 L730.4,940.2 L725.5,938.6 L720.7,936.9 L716.3,935.0 L712.1,932.9 L708.2,930.6 L704.6,928.3 L701.3,925.8 L698.4,923.2 L695.8,920.5 L693.6,917.7 L691.8,914.9 L690.4,911.9 L689.4,909.0 L688.8,906.0 L688.6,903.0"/><path d="M688.6,895.0 L688.7,892.8 L689.0,890.7 L689.5,888.6 L690.3,886.4 L691.2,884.3 L692.4,882.2 L693.7,880.2 L695.2,878.2"/><path d="M849.2,878.2 L850.7,880.2 L852.0,882.2 L853.2,884.3 L854.1,886.4 L854.9,888.6 L855.4,890.7 L855.7,892.8 L855.8,895.0"/><path d="M688.6,895 L688.6,903"/><path d="M855.8000000000001,895 L855.8000000000001,903"/><path d="M855.8,937.0 L855.6,940.0 L855.0,943.0 L854.0,945.9 L852.6,948.9 L850.8,951.7 L848.6,954.5 L846.0,957.2 L843.1,959.8 L839.8,962.3 L836.2,964.6 L832.3,966.9 L828.1,969.0 L823.7,970.9 L818.9,972.6 L814.0,974.2 L808.8,975.6 L803.5,976.9 L798.0,977.9 L792.4,978.7 L786.7,979.3 L780.9,979.8 L775.1,980.0 L769.3,980.0 L763.5,979.8 L757.7,979.3 L752.0,978.7 L746.4,977.9 L740.9,976.9 L735.6,975.6 L730.4,974.2 L725.5,972.6 L720.7,970.9 L716.3,969.0 L712.1,966.9 L708.2,964.6 L704.6,962.3 L701.3,959.8 L698.4,957.2 L695.8,954.5 L693.6,951.7 L691.8,948.9 L690.4,945.9 L689.4,943.0 L688.8,940.0 L688.6,937.0"/><path d="M855.8,945.0 L855.6,948.0 L855.0,951.0 L854.0,953.9 L852.6,956.9 L850.8,959.7 L848.6,962.5 L846.0,965.2 L843.1,967.8 L839.8,970.3 L836.2,972.6 L832.3,974.9 L828.1,977.0 L823.7,978.9 L818.9,980.6 L814.0,982.2 L808.8,983.6 L803.5,984.9 L798.0,985.9 L792.4,986.7 L786.7,987.3 L780.9,987.8 L775.1,988.0 L769.3,988.0 L763.5,987.8 L757.7,987.3 L752.0,986.7 L746.4,985.9 L740.9,984.9 L735.6,983.6 L730.4,982.2 L725.5,980.6 L720.7,978.9 L716.3,977.0 L712.1,974.9 L708.2,972.6 L704.6,970.3 L701.3,967.8 L698.4,965.2 L695.8,962.5 L693.6,959.7 L691.8,956.9 L690.4,953.9 L689.4,951.0 L688.8,948.0 L688.6,945.0"/><path d="M688.6,937.0 L688.7,934.8 L689.0,932.7 L689.5,930.6 L690.3,928.4 L691.2,926.3 L692.4,924.2 L693.7,922.2 L695.2,920.2"/><path d="M849.2,920.2 L850.7,922.2 L852.0,924.2 L853.2,926.3 L854.1,928.4 L854.9,930.6 L855.4,932.7 L855.7,934.8 L855.8,937.0"/><path d="M688.6,937 L688.6,945"/><path d="M855.8000000000001,937 L855.8000000000001,945"/><path d="M855.8,977.0 L855.6,980.0 L855.0,983.0 L854.0,985.9 L852.6,988.9 L850.8,991.7 L848.6,994.5 L846.0,997.2 L843.1,999.8 L839.8,1002.3 L836.2,1004.6 L832.3,1006.9 L828.1,1009.0 L823.7,1010.9 L818.9,1012.6 L814.0,1014.2 L808.8,1015.6 L803.5,1016.9 L798.0,1017.9 L792.4,1018.7 L786.7,1019.3 L780.9,1019.8 L775.1,1020.0 L769.3,1020.0 L763.5,1019.8 L757.7,1019.3 L752.0,1018.7 L746.4,1017.9 L740.9,1016.9 L735.6,1015.6 L730.4,1014.2 L725.5,1012.6 L720.7,1010.9 L716.3,1009.0 L712.1,1006.9 L708.2,1004.6 L704.6,1002.3 L701.3,999.8 L698.4,997.2 L695.8,994.5 L693.6,991.7 L691.8,988.9 L690.4,985.9 L689.4,983.0 L688.8,980.0 L688.6,977.0"/><path d="M855.8,985.0 L855.6,988.0 L855.0,991.0 L854.0,993.9 L852.6,996.9 L850.8,999.7 L848.6,1002.5 L846.0,1005.2 L843.1,1007.8 L839.8,1010.3 L836.2,1012.6 L832.3,1014.9 L828.1,1017.0 L823.7,1018.9 L818.9,1020.6 L814.0,1022.2 L808.8,1023.6 L803.5,1024.9 L798.0,1025.9 L792.4,1026.7 L786.7,1027.3 L780.9,1027.8 L775.1,1028.0 L769.3,1028.0 L763.5,1027.8 L757.7,1027.3 L752.0,1026.7 L746.4,1025.9 L740.9,1024.9 L735.6,1023.6 L730.4,1022.2 L725.5,1020.6 L720.7,1018.9 L716.3,1017.0 L712.1,1014.9 L708.2,1012.6 L704.6,1010.3 L701.3,1007.8 L698.4,1005.2 L695.8,1002.5 L693.6,999.7 L691.8,996.9 L690.4,993.9 L689.4,991.0 L688.8,988.0 L688.6,985.0"/><path d="M688.6,977.0 L688.7,974.8 L689.0,972.7 L689.5,970.6 L690.3,968.4 L691.2,966.3 L692.4,964.2 L693.7,962.2 L695.2,960.2"/><path d="M849.2,960.2 L850.7,962.2 L852.0,964.2 L853.2,966.3 L854.1,968.4 L854.9,970.6 L855.4,972.7 L855.7,974.8 L855.8,977.0"/><path d="M688.6,977 L688.6,985"/><path d="M855.8000000000001,977 L855.8000000000001,985"/><path d="M855.8,1015.5 L855.6,1018.5 L855.0,1021.5 L854.0,1024.4 L852.6,1027.4 L850.8,1030.2 L848.6,1033.0 L846.0,1035.7 L843.1,1038.3 L839.8,1040.8 L836.2,1043.1 L832.3,1045.4 L828.1,1047.5 L823.7,1049.4 L818.9,1051.1 L814.0,1052.7 L808.8,1054.1 L803.5,1055.4 L798.0,1056.4 L792.4,1057.2 L786.7,1057.8 L780.9,1058.3 L775.1,1058.5 L769.3,1058.5 L763.5,1058.3 L757.7,1057.8 L752.0,1057.2 L746.4,1056.4 L740.9,1055.4 L735.6,1054.1 L730.4,1052.7 L725.5,1051.1 L720.7,1049.4 L716.3,1047.5 L712.1,1045.4 L708.2,1043.1 L704.6,1040.8 L701.3,1038.3 L698.4,1035.7 L695.8,1033.0 L693.6,1030.2 L691.8,1027.4 L690.4,1024.4 L689.4,1021.5 L688.8,1018.5 L688.6,1015.5"/><path d="M855.8,1023.5 L855.6,1026.5 L855.0,1029.5 L854.0,1032.4 L852.6,1035.4 L850.8,1038.2 L848.6,1041.0 L846.0,1043.7 L843.1,1046.3 L839.8,1048.8 L836.2,1051.1 L832.3,1053.4 L828.1,1055.5 L823.7,1057.4 L818.9,1059.1 L814.0,1060.7 L808.8,1062.1 L803.5,1063.4 L798.0,1064.4 L792.4,1065.2 L786.7,1065.8 L780.9,1066.3 L775.1,1066.5 L769.3,1066.5 L763.5,1066.3 L757.7,1065.8 L752.0,1065.2 L746.4,1064.4 L740.9,1063.4 L735.6,1062.1 L730.4,1060.7 L725.5,1059.1 L720.7,1057.4 L716.3,1055.5 L712.1,1053.4 L708.2,1051.1 L704.6,1048.8 L701.3,1046.3 L698.4,1043.7 L695.8,1041.0 L693.6,1038.2 L691.8,1035.4 L690.4,1032.4 L689.4,1029.5 L688.8,1026.5 L688.6,1023.5"/><path d="M688.6,1015.5 L688.7,1013.3 L689.0,1011.2 L689.5,1009.1 L690.3,1006.9 L691.2,1004.8 L692.4,1002.7 L693.7,1000.7 L695.2,998.7"/><path d="M849.2,998.7 L850.7,1000.7 L852.0,1002.7 L853.2,1004.8 L854.1,1006.9 L854.9,1009.1 L855.4,1011.2 L855.7,1013.3 L855.8,1015.5"/><path d="M688.6,1015.5 L688.6,1023.5"/><path d="M855.8000000000001,1015.5 L855.8000000000001,1023.5"/><path d="M855.8,1063.6 L855.6,1066.6 L855.0,1069.6 L854.0,1072.5 L852.6,1075.5 L850.8,1078.3 L848.6,1081.1 L846.0,1083.8 L843.1,1086.4 L839.8,1088.9 L836.2,1091.2 L832.3,1093.5 L828.1,1095.6 L823.7,1097.5 L818.9,1099.2 L814.0,1100.8 L808.8,1102.2 L803.5,1103.5 L798.0,1104.5 L792.4,1105.3 L786.7,1105.9 L780.9,1106.4 L775.1,1106.6 L769.3,1106.6 L763.5,1106.4 L757.7,1105.9 L752.0,1105.3 L746.4,1104.5 L740.9,1103.5 L735.6,1102.2 L730.4,1100.8 L725.5,1099.2 L720.7,1097.5 L716.3,1095.6 L712.1,1093.5 L708.2,1091.2 L704.6,1088.9 L701.3,1086.4 L698.4,1083.8 L695.8,1081.1 L693.6,1078.3 L691.8,1075.5 L690.4,1072.5 L689.4,1069.6 L688.8,1066.6 L688.6,1063.6"/><path d="M855.8,1071.6 L855.6,1074.6 L855.0,1077.6 L854.0,1080.5 L852.6,1083.5 L850.8,1086.3 L848.6,1089.1 L846.0,1091.8 L843.1,1094.4 L839.8,1096.9 L836.2,1099.2 L832.3,1101.5 L828.1,1103.6 L823.7,1105.5 L818.9,1107.2 L814.0,1108.8 L808.8,1110.2 L803.5,1111.5 L798.0,1112.5 L792.4,1113.3 L786.7,1113.9 L780.9,1114.4 L775.1,1114.6 L769.3,1114.6 L763.5,1114.4 L757.7,1113.9 L752.0,1113.3 L746.4,1112.5 L740.9,1111.5 L735.6,1110.2 L730.4,1108.8 L725.5,1107.2 L720.7,1105.5 L716.3,1103.6 L712.1,1101.5 L708.2,1099.2 L704.6,1096.9 L701.3,1094.4 L698.4,1091.8 L695.8,1089.1 L693.6,1086.3 L691.8,1083.5 L690.4,1080.5 L689.4,1077.6 L688.8,1074.6 L688.6,1071.6"/><path d="M688.6,1063.6 L688.7,1061.4 L689.0,1059.3 L689.5,1057.2 L690.3,1055.0 L691.2,1052.9 L692.4,1050.8 L693.7,1048.8 L695.2,1046.8"/><path d="M849.2,1046.8 L850.7,1048.8 L852.0,1050.8 L853.2,1052.9 L854.1,1055.0 L854.9,1057.2 L855.4,1059.3 L855.7,1061.4 L855.8,1063.6"/><path d="M688.6,1063.6 L688.6,1071.6"/><path d="M855.8000000000001,1063.6 L855.8000000000001,1071.6"/><path d="M855.8,1102.0 L855.6,1105.0 L855.0,1108.0 L854.0,1110.9 L852.6,1113.9 L850.8,1116.7 L848.6,1119.5 L846.0,1122.2 L843.1,1124.8 L839.8,1127.3 L836.2,1129.6 L832.3,1131.9 L828.1,1134.0 L823.7,1135.9 L818.9,1137.6 L814.0,1139.2 L808.8,1140.6 L803.5,1141.9 L798.0,1142.9 L792.4,1143.7 L786.7,1144.3 L780.9,1144.8 L775.1,1145.0 L769.3,1145.0 L763.5,1144.8 L757.7,1144.3 L752.0,1143.7 L746.4,1142.9 L740.9,1141.9 L735.6,1140.6 L730.4,1139.2 L725.5,1137.6 L720.7,1135.9 L716.3,1134.0 L712.1,1131.9 L708.2,1129.6 L704.6,1127.3 L701.3,1124.8 L698.4,1122.2 L695.8,1119.5 L693.6,1116.7 L691.8,1113.9 L690.4,1110.9 L689.4,1108.0 L688.8,1105.0 L688.6,1102.0"/><path d="M855.8,1110.0 L855.6,1113.0 L855.0,1116.0 L854.0,1118.9 L852.6,1121.9 L850.8,1124.7 L848.6,1127.5 L846.0,1130.2 L843.1,1132.8 L839.8,1135.3 L836.2,1137.6 L832.3,1139.9 L828.1,1142.0 L823.7,1143.9 L818.9,1145.6 L814.0,1147.2 L808.8,1148.6 L803.5,1149.9 L798.0,1150.9 L792.4,1151.7 L786.7,1152.3 L780.9,1152.8 L775.1,1153.0 L769.3,1153.0 L763.5,1152.8 L757.7,1152.3 L752.0,1151.7 L746.4,1150.9 L740.9,1149.9 L735.6,1148.6 L730.4,1147.2 L725.5,1145.6 L720.7,1143.9 L716.3,1142.0 L712.1,1139.9 L708.2,1137.6 L704.6,1135.3 L701.3,1132.8 L698.4,1130.2 L695.8,1127.5 L693.6,1124.7 L691.8,1121.9 L690.4,1118.9 L689.4,1116.0 L688.8,1113.0 L688.6,1110.0"/><path d="M688.6,1102.0 L688.7,1099.8 L689.0,1097.7 L689.5,1095.6 L690.3,1093.4 L691.2,1091.3 L692.4,1089.2 L693.7,1087.2 L695.2,1085.2"/><path d="M849.2,1085.2 L850.7,1087.2 L852.0,1089.2 L853.2,1091.3 L854.1,1093.4 L854.9,1095.6 L855.4,1097.7 L855.7,1099.8 L855.8,1102.0"/><path d="M688.6,1102 L688.6,1110"/><path d="M855.8000000000001,1102 L855.8000000000001,1110"/><path d="M855.8,1140.6 L855.6,1143.6 L855.0,1146.6 L854.0,1149.5 L852.6,1152.5 L850.8,1155.3 L848.6,1158.1 L846.0,1160.8 L843.1,1163.4 L839.8,1165.9 L836.2,1168.2 L832.3,1170.5 L828.1,1172.6 L823.7,1174.5 L818.9,1176.2 L814.0,1177.8 L808.8,1179.2 L803.5,1180.5 L798.0,1181.5 L792.4,1182.3 L786.7,1182.9 L780.9,1183.4 L775.1,1183.6 L769.3,1183.6 L763.5,1183.4 L757.7,1182.9 L752.0,1182.3 L746.4,1181.5 L740.9,1180.5 L735.6,1179.2 L730.4,1177.8 L725.5,1176.2 L720.7,1174.5 L716.3,1172.6 L712.1,1170.5 L708.2,1168.2 L704.6,1165.9 L701.3,1163.4 L698.4,1160.8 L695.8,1158.1 L693.6,1155.3 L691.8,1152.5 L690.4,1149.5 L689.4,1146.6 L688.8,1143.6 L688.6,1140.6"/><path d="M855.8,1148.6 L855.6,1151.6 L855.0,1154.6 L854.0,1157.5 L852.6,1160.5 L850.8,1163.3 L848.6,1166.1 L846.0,1168.8 L843.1,1171.4 L839.8,1173.9 L836.2,1176.2 L832.3,1178.5 L828.1,1180.6 L823.7,1182.5 L818.9,1184.2 L814.0,1185.8 L808.8,1187.2 L803.5,1188.5 L798.0,1189.5 L792.4,1190.3 L786.7,1190.9 L780.9,1191.4 L775.1,1191.6 L769.3,1191.6 L763.5,1191.4 L757.7,1190.9 L752.0,1190.3 L746.4,1189.5 L740.9,1188.5 L735.6,1187.2 L730.4,1185.8 L725.5,1184.2 L720.7,1182.5 L716.3,1180.6 L712.1,1178.5 L708.2,1176.2 L704.6,1173.9 L701.3,1171.4 L698.4,1168.8 L695.8,1166.1 L693.6,1163.3 L691.8,1160.5 L690.4,1157.5 L689.4,1154.6 L688.8,1151.6 L688.6,1148.6"/><path d="M688.6,1140.6 L688.7,1138.4 L689.0,1136.3 L689.5,1134.2 L690.3,1132.0 L691.2,1129.9 L692.4,1127.8 L693.7,1125.8 L695.2,1123.8"/><path d="M849.2,1123.8 L850.7,1125.8 L852.0,1127.8 L853.2,1129.9 L854.1,1132.0 L854.9,1134.2 L855.4,1136.3 L855.7,1138.4 L855.8,1140.6"/><path d="M688.6,1140.6 L688.6,1148.6"/><path d="M855.8000000000001,1140.6 L855.8000000000001,1148.6"/></g>
<g transform="translate(660,940) scale(0.139412)" stroke-width="2"><path d="M290,200 L290,330 C300,400 380,432 460,432 C560,432 630,400 640,345"/><path d="M235,300 C260,420 360,500 470,500 C600,500 710,450 722,365"/><path d="M290,490 L290,620 C300,690 380,712 460,712 C560,712 630,690 640,635"/><path d="M235,585 C260,700 360,785 470,785 C600,785 710,740 722,650"/><path d="M560,880 C600,950 700,990 805,990 C920,990 1010,950 1050,880"/><path d="M570,0 C600,60 700,105 805,110 C920,110 1010,70 1060,0"/><path d="M830,1270 C840,1340 930,1400 1060,1410"/><path d="M935,1260 C940,1320 1040,1352 1140,1352 C1230,1352 1270,1300 1275,1140"/><path d="M1285,1180 L1340,1260"/></g>
<g transform="translate(650,1100) scale(0.139412)" stroke-width="2"><path d="M820,390 C830,530 900,570 960,580"/><path d="M910,400 C910,470 980,522 1080,525 C1200,525 1270,460 1275,350"/><path d="M1275,340 L1340,420 L1340,460"/><path d="M900,110 C910,180 1000,222 1150,225 C1250,225 1320,180 1340,130"/><path d="M285,95 C230,120 190,190 190,300 L190,460 C195,520 215,550 240,560 L470,572"/><path d="M240,340 L240,560"/><path d="M600,625 L600,680 C620,740 700,780 850,790 C1000,790 1090,740 1105,640"/><path d="M665,760 L665,1030"/><path d="M1035,750 L1035,1050"/><path d="M670,870 C700,930 780,960 850,960 C930,960 1010,930 1030,880"/><path d="M668,1000 C700,1040 780,1060 850,1060 C930,1060 1000,1040 1032,1000"/><path d="M695,1080 L695,1190"/><path d="M1015,1080 L1015,1190"/><path d="M700,1070 C730,1110 800,1120 850,1120 C910,1120 990,1110 1010,1070"/><path d="M700,1105 C730,1145 800,1155 850,1155 C910,1155 990,1145 1010,1105"/><path d="M700,1140 C730,1180 800,1190 850,1190 C910,1190 990,1180 1010,1140"/><path d="M700,1175 C730,1215 800,1225 850,1225 C910,1225 990,1215 1010,1175"/><path d="M700,1190 C720,1250 780,1270 850,1270 C920,1270 990,1250 1010,1190"/></g>
<g><path d="M360,1092.7 L489,931.8"/><path d="M360,1092.7 L489,973.5999999999999"/><path d="M360,1092.7 L489,1015.4"/><path d="M360,1092.7 L489,1057.2"/><path d="M360,1092.7 L489,1099.0"/><path d="M360,1092.7 L489,1140.8"/><path d="M360,1092.7 L489,1182.6"/><path d="M360,1092.7 L489,1224.3999999999999"/><path d="M360,1092.7 L489,1266.1999999999998"/><path style="fill:#fff;stroke:none;vector-effect:none" fill-rule="evenodd" d="M488.0,1262.1999999999998 a83.5,48 0 1,0 167.0,0 a83.5,48 0 1,0 -167.0,0 Z M495.5,1262.1999999999998 a76,44 0 1,0 152,0 a76,44 0 1,0 -152,0 Z"/><path d="M635.5,1231.3 L639.1,1234.0 L642.3,1236.8 L645.2,1239.7 L647.8,1242.7 L650.0,1245.8 L651.8,1249.0 L653.2,1252.2 L654.2,1255.5 L654.8,1258.9 L655.0,1262.2 L654.8,1265.5 L654.2,1268.9 L653.2,1272.2 L651.8,1275.4 L650.0,1278.6 L647.8,1281.7 L645.2,1284.7 L642.3,1287.6 L639.1,1290.4 L635.5,1293.1 L631.6,1295.5 L627.4,1297.9 L622.9,1300.0 L618.2,1302.0 L613.2,1303.8 L608.1,1305.3 L602.8,1306.7 L597.3,1307.9 L591.7,1308.8 L586.0,1309.5 L580.2,1309.9 L574.4,1310.2 L568.6,1310.2 L562.8,1309.9 L557.0,1309.5 L551.3,1308.8 L545.7,1307.9 L540.2,1306.7 L534.9,1305.3 L529.8,1303.8 L524.8,1302.0 L520.1,1300.0 L515.6,1297.9 L511.4,1295.5 L507.5,1293.1 L503.9,1290.4 L500.7,1287.6 L497.8,1284.7 L495.2,1281.7 L493.0,1278.6 L491.2,1275.4 L489.8,1272.2 L488.8,1268.9 L488.2,1265.5 L488.0,1262.2 L488.2,1258.9 L488.8,1255.5 L489.8,1252.2 L491.2,1249.0 L493.0,1245.8 L495.2,1242.7 L497.8,1239.7 L500.7,1236.8 L503.9,1234.0 L507.5,1231.3 L511.4,1228.9 L515.6,1226.5 L520.1,1224.4 L524.8,1222.4 L529.8,1220.6 L534.9,1219.1 L540.2,1217.7 L545.7,1216.5 L551.3,1215.6 L557.0,1214.9 L562.8,1214.5 L568.6,1214.2 L574.4,1214.2 L580.2,1214.5 L586.0,1214.9 L591.7,1215.6 L597.3,1216.5 L602.8,1217.7 L608.1,1219.1 L613.2,1220.6 L618.2,1222.4 L622.9,1224.4 L627.4,1226.5"/><path d="M629.7,1233.9 L633.0,1236.3 L636.0,1238.9 L638.6,1241.5 L640.9,1244.3 L642.9,1247.2 L644.6,1250.1 L645.8,1253.1 L646.8,1256.1 L647.3,1259.1 L647.5,1262.2 L647.3,1265.3 L646.8,1268.3 L645.8,1271.3 L644.6,1274.3 L642.9,1277.2 L640.9,1280.1 L638.6,1282.9 L636.0,1285.5 L633.0,1288.1 L629.7,1290.5 L626.2,1292.8 L622.4,1294.9 L618.3,1296.9 L614.0,1298.7 L609.5,1300.3 L604.8,1301.7 L600.0,1303.0 L595.0,1304.0 L589.9,1304.9 L584.7,1305.5 L579.4,1306.0 L574.2,1306.2 L568.8,1306.2 L563.6,1306.0 L558.3,1305.5 L553.1,1304.9 L548.0,1304.0 L543.0,1303.0 L538.2,1301.7 L533.5,1300.3 L529.0,1298.7 L524.7,1296.9 L520.6,1294.9 L516.8,1292.8 L513.3,1290.5 L510.0,1288.1 L507.0,1285.5 L504.4,1282.9 L502.1,1280.1 L500.1,1277.2 L498.4,1274.3 L497.2,1271.3 L496.2,1268.3 L495.7,1265.3 L495.5,1262.2 L495.7,1259.1 L496.2,1256.1 L497.2,1253.1 L498.4,1250.1 L500.1,1247.2 L502.1,1244.3 L504.4,1241.5 L507.0,1238.9 L510.0,1236.3 L513.3,1233.9 L516.8,1231.6 L520.6,1229.5 L524.7,1227.5 L529.0,1225.7 L533.5,1224.1 L538.2,1222.7 L543.0,1221.4 L548.0,1220.4 L553.1,1219.5 L558.3,1218.9 L563.6,1218.4 L568.8,1218.2 L574.2,1218.2 L579.4,1218.4 L584.7,1218.9 L589.9,1219.5 L595.0,1220.4 L600.0,1221.4 L604.8,1222.7 L609.5,1224.1 L614.0,1225.7 L618.3,1227.5 L622.4,1229.5"/><path d="M627.4,1226.5 L622.4,1229.5"/><path d="M635.5,1231.3 L629.7,1233.9"/><path style="fill:#fff;stroke:none;vector-effect:none" fill-rule="evenodd" d="M488.0,1220.3999999999999 a83.5,48 0 1,0 167.0,0 a83.5,48 0 1,0 -167.0,0 Z M495.5,1220.3999999999999 a76,44 0 1,0 152,0 a76,44 0 1,0 -152,0 Z"/><path d="M635.5,1189.5 L639.1,1192.2 L642.3,1195.0 L645.2,1197.9 L647.8,1200.9 L650.0,1204.0 L651.8,1207.2 L653.2,1210.4 L654.2,1213.7 L654.8,1217.1 L655.0,1220.4 L654.8,1223.7 L654.2,1227.1 L653.2,1230.4 L651.8,1233.6 L650.0,1236.8 L647.8,1239.9 L645.2,1242.9 L642.3,1245.8 L639.1,1248.6 L635.5,1251.3 L631.6,1253.7 L627.4,1256.1 L622.9,1258.2 L618.2,1260.2 L613.2,1262.0 L608.1,1263.5 L602.8,1264.9 L597.3,1266.1 L591.7,1267.0 L586.0,1267.7 L580.2,1268.1 L574.4,1268.4 L568.6,1268.4 L562.8,1268.1 L557.0,1267.7 L551.3,1267.0 L545.7,1266.1 L540.2,1264.9 L534.9,1263.5 L529.8,1262.0 L524.8,1260.2 L520.1,1258.2 L515.6,1256.1 L511.4,1253.7 L507.5,1251.3 L503.9,1248.6 L500.7,1245.8 L497.8,1242.9 L495.2,1239.9 L493.0,1236.8 L491.2,1233.6 L489.8,1230.4 L488.8,1227.1 L488.2,1223.7 L488.0,1220.4 L488.2,1217.1 L488.8,1213.7 L489.8,1210.4 L491.2,1207.2 L493.0,1204.0 L495.2,1200.9 L497.8,1197.9 L500.7,1195.0 L503.9,1192.2 L507.5,1189.5 L511.4,1187.1 L515.6,1184.7 L520.1,1182.6 L524.8,1180.6 L529.8,1178.8 L534.9,1177.3 L540.2,1175.9 L545.7,1174.7 L551.3,1173.8 L557.0,1173.1 L562.8,1172.7 L568.6,1172.4 L574.4,1172.4 L580.2,1172.7 L586.0,1173.1 L591.7,1173.8 L597.3,1174.7 L602.8,1175.9 L608.1,1177.3 L613.2,1178.8 L618.2,1180.6 L622.9,1182.6 L627.4,1184.7"/><path d="M629.7,1192.1 L633.0,1194.5 L636.0,1197.1 L638.6,1199.7 L640.9,1202.5 L642.9,1205.4 L644.6,1208.3 L645.8,1211.3 L646.8,1214.3 L647.3,1217.3 L647.5,1220.4 L647.3,1223.5 L646.8,1226.5 L645.8,1229.5 L644.6,1232.5 L642.9,1235.4 L640.9,1238.3 L638.6,1241.1 L636.0,1243.7 L633.0,1246.3 L629.7,1248.7 L626.2,1251.0 L622.4,1253.1 L618.3,1255.1 L614.0,1256.9 L609.5,1258.5 L604.8,1259.9 L600.0,1261.2 L595.0,1262.2 L589.9,1263.1 L584.7,1263.7 L579.4,1264.2 L574.2,1264.4 L568.8,1264.4 L563.6,1264.2 L558.3,1263.7 L553.1,1263.1 L548.0,1262.2 L543.0,1261.2 L538.2,1259.9 L533.5,1258.5 L529.0,1256.9 L524.7,1255.1 L520.6,1253.1 L516.8,1251.0 L513.3,1248.7 L510.0,1246.3 L507.0,1243.7 L504.4,1241.1 L502.1,1238.3 L500.1,1235.4 L498.4,1232.5 L497.2,1229.5 L496.2,1226.5 L495.7,1223.5 L495.5,1220.4 L495.7,1217.3 L496.2,1214.3 L497.2,1211.3 L498.4,1208.3 L500.1,1205.4 L502.1,1202.5 L504.4,1199.7 L507.0,1197.1 L510.0,1194.5 L513.3,1192.1 L516.8,1189.8 L520.6,1187.7 L524.7,1185.7 L529.0,1183.9 L533.5,1182.3 L538.2,1180.9 L543.0,1179.6 L548.0,1178.6 L553.1,1177.7 L558.3,1177.1 L563.6,1176.6 L568.8,1176.4 L574.2,1176.4 L579.4,1176.6 L584.7,1177.1 L589.9,1177.7 L595.0,1178.6 L600.0,1179.6 L604.8,1180.9 L609.5,1182.3 L614.0,1183.9 L618.3,1185.7 L622.4,1187.7"/><path d="M627.4,1184.7 L622.4,1187.7"/><path d="M635.5,1189.5 L629.7,1192.1"/><path style="fill:#fff;stroke:none;vector-effect:none" fill-rule="evenodd" d="M488.0,1178.6 a83.5,48 0 1,0 167.0,0 a83.5,48 0 1,0 -167.0,0 Z M495.5,1178.6 a76,44 0 1,0 152,0 a76,44 0 1,0 -152,0 Z"/><path d="M635.5,1147.7 L639.1,1150.4 L642.3,1153.2 L645.2,1156.1 L647.8,1159.1 L650.0,1162.2 L651.8,1165.4 L653.2,1168.6 L654.2,1171.9 L654.8,1175.3 L655.0,1178.6 L654.8,1181.9 L654.2,1185.3 L653.2,1188.6 L651.8,1191.8 L650.0,1195.0 L647.8,1198.1 L645.2,1201.1 L642.3,1204.0 L639.1,1206.8 L635.5,1209.5 L631.6,1211.9 L627.4,1214.3 L622.9,1216.4 L618.2,1218.4 L613.2,1220.2 L608.1,1221.7 L602.8,1223.1 L597.3,1224.3 L591.7,1225.2 L586.0,1225.9 L580.2,1226.3 L574.4,1226.6 L568.6,1226.6 L562.8,1226.3 L557.0,1225.9 L551.3,1225.2 L545.7,1224.3 L540.2,1223.1 L534.9,1221.7 L529.8,1220.2 L524.8,1218.4 L520.1,1216.4 L515.6,1214.3 L511.4,1211.9 L507.5,1209.5 L503.9,1206.8 L500.7,1204.0 L497.8,1201.1 L495.2,1198.1 L493.0,1195.0 L491.2,1191.8 L489.8,1188.6 L488.8,1185.3 L488.2,1181.9 L488.0,1178.6 L488.2,1175.3 L488.8,1171.9 L489.8,1168.6 L491.2,1165.4 L493.0,1162.2 L495.2,1159.1 L497.8,1156.1 L500.7,1153.2 L503.9,1150.4 L507.5,1147.7 L511.4,1145.3 L515.6,1142.9 L520.1,1140.8 L524.8,1138.8 L529.8,1137.0 L534.9,1135.5 L540.2,1134.1 L545.7,1132.9 L551.3,1132.0 L557.0,1131.3 L562.8,1130.9 L568.6,1130.6 L574.4,1130.6 L580.2,1130.9 L586.0,1131.3 L591.7,1132.0 L597.3,1132.9 L602.8,1134.1 L608.1,1135.5 L613.2,1137.0 L618.2,1138.8 L622.9,1140.8 L627.4,1142.9"/><path d="M629.7,1150.3 L633.0,1152.7 L636.0,1155.3 L638.6,1157.9 L640.9,1160.7 L642.9,1163.6 L644.6,1166.5 L645.8,1169.5 L646.8,1172.5 L647.3,1175.5 L647.5,1178.6 L647.3,1181.7 L646.8,1184.7 L645.8,1187.7 L644.6,1190.7 L642.9,1193.6 L640.9,1196.5 L638.6,1199.3 L636.0,1201.9 L633.0,1204.5 L629.7,1206.9 L626.2,1209.2 L622.4,1211.3 L618.3,1213.3 L614.0,1215.1 L609.5,1216.7 L604.8,1218.1 L600.0,1219.4 L595.0,1220.4 L589.9,1221.3 L584.7,1221.9 L579.4,1222.4 L574.2,1222.6 L568.8,1222.6 L563.6,1222.4 L558.3,1221.9 L553.1,1221.3 L548.0,1220.4 L543.0,1219.4 L538.2,1218.1 L533.5,1216.7 L529.0,1215.1 L524.7,1213.3 L520.6,1211.3 L516.8,1209.2 L513.3,1206.9 L510.0,1204.5 L507.0,1201.9 L504.4,1199.3 L502.1,1196.5 L500.1,1193.6 L498.4,1190.7 L497.2,1187.7 L496.2,1184.7 L495.7,1181.7 L495.5,1178.6 L495.7,1175.5 L496.2,1172.5 L497.2,1169.5 L498.4,1166.5 L500.1,1163.6 L502.1,1160.7 L504.4,1157.9 L507.0,1155.3 L510.0,1152.7 L513.3,1150.3 L516.8,1148.0 L520.6,1145.9 L524.7,1143.9 L529.0,1142.1 L533.5,1140.5 L538.2,1139.1 L543.0,1137.8 L548.0,1136.8 L553.1,1135.9 L558.3,1135.3 L563.6,1134.8 L568.8,1134.6 L574.2,1134.6 L579.4,1134.8 L584.7,1135.3 L589.9,1135.9 L595.0,1136.8 L600.0,1137.8 L604.8,1139.1 L609.5,1140.5 L614.0,1142.1 L618.3,1143.9 L622.4,1145.9"/><path d="M627.4,1142.9 L622.4,1145.9"/><path d="M635.5,1147.7 L629.7,1150.3"/><path style="fill:#fff;stroke:none;vector-effect:none" fill-rule="evenodd" d="M488.0,1136.8 a83.5,48 0 1,0 167.0,0 a83.5,48 0 1,0 -167.0,0 Z M495.5,1136.8 a76,44 0 1,0 152,0 a76,44 0 1,0 -152,0 Z"/><path d="M635.5,1105.9 L639.1,1108.6 L642.3,1111.4 L645.2,1114.3 L647.8,1117.3 L650.0,1120.4 L651.8,1123.6 L653.2,1126.8 L654.2,1130.1 L654.8,1133.5 L655.0,1136.8 L654.8,1140.1 L654.2,1143.5 L653.2,1146.8 L651.8,1150.0 L650.0,1153.2 L647.8,1156.3 L645.2,1159.3 L642.3,1162.2 L639.1,1165.0 L635.5,1167.7 L631.6,1170.1 L627.4,1172.5 L622.9,1174.6 L618.2,1176.6 L613.2,1178.4 L608.1,1179.9 L602.8,1181.3 L597.3,1182.5 L591.7,1183.4 L586.0,1184.1 L580.2,1184.5 L574.4,1184.8 L568.6,1184.8 L562.8,1184.5 L557.0,1184.1 L551.3,1183.4 L545.7,1182.5 L540.2,1181.3 L534.9,1179.9 L529.8,1178.4 L524.8,1176.6 L520.1,1174.6 L515.6,1172.5 L511.4,1170.1 L507.5,1167.7 L503.9,1165.0 L500.7,1162.2 L497.8,1159.3 L495.2,1156.3 L493.0,1153.2 L491.2,1150.0 L489.8,1146.8 L488.8,1143.5 L488.2,1140.1 L488.0,1136.8 L488.2,1133.5 L488.8,1130.1 L489.8,1126.8 L491.2,1123.6 L493.0,1120.4 L495.2,1117.3 L497.8,1114.3 L500.7,1111.4 L503.9,1108.6 L507.5,1105.9 L511.4,1103.5 L515.6,1101.1 L520.1,1099.0 L524.8,1097.0 L529.8,1095.2 L534.9,1093.7 L540.2,1092.3 L545.7,1091.1 L551.3,1090.2 L557.0,1089.5 L562.8,1089.1 L568.6,1088.8 L574.4,1088.8 L580.2,1089.1 L586.0,1089.5 L591.7,1090.2 L597.3,1091.1 L602.8,1092.3 L608.1,1093.7 L613.2,1095.2 L618.2,1097.0 L622.9,1099.0 L627.4,1101.1"/><path d="M629.7,1108.5 L633.0,1110.9 L636.0,1113.5 L638.6,1116.1 L640.9,1118.9 L642.9,1121.8 L644.6,1124.7 L645.8,1127.7 L646.8,1130.7 L647.3,1133.7 L647.5,1136.8 L647.3,1139.9 L646.8,1142.9 L645.8,1145.9 L644.6,1148.9 L642.9,1151.8 L640.9,1154.7 L638.6,1157.5 L636.0,1160.1 L633.0,1162.7 L629.7,1165.1 L626.2,1167.4 L622.4,1169.5 L618.3,1171.5 L614.0,1173.3 L609.5,1174.9 L604.8,1176.3 L600.0,1177.6 L595.0,1178.6 L589.9,1179.5 L584.7,1180.1 L579.4,1180.6 L574.2,1180.8 L568.8,1180.8 L563.6,1180.6 L558.3,1180.1 L553.1,1179.5 L548.0,1178.6 L543.0,1177.6 L538.2,1176.3 L533.5,1174.9 L529.0,1173.3 L524.7,1171.5 L520.6,1169.5 L516.8,1167.4 L513.3,1165.1 L510.0,1162.7 L507.0,1160.1 L504.4,1157.5 L502.1,1154.7 L500.1,1151.8 L498.4,1148.9 L497.2,1145.9 L496.2,1142.9 L495.7,1139.9 L495.5,1136.8 L495.7,1133.7 L496.2,1130.7 L497.2,1127.7 L498.4,1124.7 L500.1,1121.8 L502.1,1118.9 L504.4,1116.1 L507.0,1113.5 L510.0,1110.9 L513.3,1108.5 L516.8,1106.2 L520.6,1104.1 L524.7,1102.1 L529.0,1100.3 L533.5,1098.7 L538.2,1097.3 L543.0,1096.0 L548.0,1095.0 L553.1,1094.1 L558.3,1093.5 L563.6,1093.0 L568.8,1092.8 L574.2,1092.8 L579.4,1093.0 L584.7,1093.5 L589.9,1094.1 L595.0,1095.0 L600.0,1096.0 L604.8,1097.3 L609.5,1098.7 L614.0,1100.3 L618.3,1102.1 L622.4,1104.1"/><path d="M627.4,1101.1 L622.4,1104.1"/><path d="M635.5,1105.9 L629.7,1108.5"/><path style="fill:#fff;stroke:none;vector-effect:none" fill-rule="evenodd" d="M488.0,1095.0 a83.5,48 0 1,0 167.0,0 a83.5,48 0 1,0 -167.0,0 Z M495.5,1095.0 a76,44 0 1,0 152,0 a76,44 0 1,0 -152,0 Z"/><path d="M635.5,1064.1 L639.1,1066.8 L642.3,1069.6 L645.2,1072.5 L647.8,1075.5 L650.0,1078.6 L651.8,1081.8 L653.2,1085.0 L654.2,1088.3 L654.8,1091.7 L655.0,1095.0 L654.8,1098.3 L654.2,1101.7 L653.2,1105.0 L651.8,1108.2 L650.0,1111.4 L647.8,1114.5 L645.2,1117.5 L642.3,1120.4 L639.1,1123.2 L635.5,1125.9 L631.6,1128.3 L627.4,1130.7 L622.9,1132.8 L618.2,1134.8 L613.2,1136.6 L608.1,1138.1 L602.8,1139.5 L597.3,1140.7 L591.7,1141.6 L586.0,1142.3 L580.2,1142.7 L574.4,1143.0 L568.6,1143.0 L562.8,1142.7 L557.0,1142.3 L551.3,1141.6 L545.7,1140.7 L540.2,1139.5 L534.9,1138.1 L529.8,1136.6 L524.8,1134.8 L520.1,1132.8 L515.6,1130.7 L511.4,1128.3 L507.5,1125.9 L503.9,1123.2 L500.7,1120.4 L497.8,1117.5 L495.2,1114.5 L493.0,1111.4 L491.2,1108.2 L489.8,1105.0 L488.8,1101.7 L488.2,1098.3 L488.0,1095.0 L488.2,1091.7 L488.8,1088.3 L489.8,1085.0 L491.2,1081.8 L493.0,1078.6 L495.2,1075.5 L497.8,1072.5 L500.7,1069.6 L503.9,1066.8 L507.5,1064.1 L511.4,1061.7 L515.6,1059.3 L520.1,1057.2 L524.8,1055.2 L529.8,1053.4 L534.9,1051.9 L540.2,1050.5 L545.7,1049.3 L551.3,1048.4 L557.0,1047.7 L562.8,1047.3 L568.6,1047.0 L574.4,1047.0 L580.2,1047.3 L586.0,1047.7 L591.7,1048.4 L597.3,1049.3 L602.8,1050.5 L608.1,1051.9 L613.2,1053.4 L618.2,1055.2 L622.9,1057.2 L627.4,1059.3"/><path d="M629.7,1066.7 L633.0,1069.1 L636.0,1071.7 L638.6,1074.3 L640.9,1077.1 L642.9,1080.0 L644.6,1082.9 L645.8,1085.9 L646.8,1088.9 L647.3,1091.9 L647.5,1095.0 L647.3,1098.1 L646.8,1101.1 L645.8,1104.1 L644.6,1107.1 L642.9,1110.0 L640.9,1112.9 L638.6,1115.7 L636.0,1118.3 L633.0,1120.9 L629.7,1123.3 L626.2,1125.6 L622.4,1127.7 L618.3,1129.7 L614.0,1131.5 L609.5,1133.1 L604.8,1134.5 L600.0,1135.8 L595.0,1136.8 L589.9,1137.7 L584.7,1138.3 L579.4,1138.8 L574.2,1139.0 L568.8,1139.0 L563.6,1138.8 L558.3,1138.3 L553.1,1137.7 L548.0,1136.8 L543.0,1135.8 L538.2,1134.5 L533.5,1133.1 L529.0,1131.5 L524.7,1129.7 L520.6,1127.7 L516.8,1125.6 L513.3,1123.3 L510.0,1120.9 L507.0,1118.3 L504.4,1115.7 L502.1,1112.9 L500.1,1110.0 L498.4,1107.1 L497.2,1104.1 L496.2,1101.1 L495.7,1098.1 L495.5,1095.0 L495.7,1091.9 L496.2,1088.9 L497.2,1085.9 L498.4,1082.9 L500.1,1080.0 L502.1,1077.1 L504.4,1074.3 L507.0,1071.7 L510.0,1069.1 L513.3,1066.7 L516.8,1064.4 L520.6,1062.3 L524.7,1060.3 L529.0,1058.5 L533.5,1056.9 L538.2,1055.5 L543.0,1054.2 L548.0,1053.2 L553.1,1052.3 L558.3,1051.7 L563.6,1051.2 L568.8,1051.0 L574.2,1051.0 L579.4,1051.2 L584.7,1051.7 L589.9,1052.3 L595.0,1053.2 L600.0,1054.2 L604.8,1055.5 L609.5,1056.9 L614.0,1058.5 L618.3,1060.3 L622.4,1062.3"/><path d="M627.4,1059.3 L622.4,1062.3"/><path d="M635.5,1064.1 L629.7,1066.7"/><path style="fill:#fff;stroke:none;vector-effect:none" fill-rule="evenodd" d="M488.0,1053.2 a83.5,48 0 1,0 167.0,0 a83.5,48 0 1,0 -167.0,0 Z M495.5,1053.2 a76,44 0 1,0 152,0 a76,44 0 1,0 -152,0 Z"/><path d="M635.5,1022.3 L639.1,1025.0 L642.3,1027.8 L645.2,1030.7 L647.8,1033.7 L650.0,1036.8 L651.8,1040.0 L653.2,1043.2 L654.2,1046.5 L654.8,1049.9 L655.0,1053.2 L654.8,1056.5 L654.2,1059.9 L653.2,1063.2 L651.8,1066.4 L650.0,1069.6 L647.8,1072.7 L645.2,1075.7 L642.3,1078.6 L639.1,1081.4 L635.5,1084.1 L631.6,1086.5 L627.4,1088.9 L622.9,1091.0 L618.2,1093.0 L613.2,1094.8 L608.1,1096.3 L602.8,1097.7 L597.3,1098.9 L591.7,1099.8 L586.0,1100.5 L580.2,1100.9 L574.4,1101.2 L568.6,1101.2 L562.8,1100.9 L557.0,1100.5 L551.3,1099.8 L545.7,1098.9 L540.2,1097.7 L534.9,1096.3 L529.8,1094.8 L524.8,1093.0 L520.1,1091.0 L515.6,1088.9 L511.4,1086.5 L507.5,1084.1 L503.9,1081.4 L500.7,1078.6 L497.8,1075.7 L495.2,1072.7 L493.0,1069.6 L491.2,1066.4 L489.8,1063.2 L488.8,1059.9 L488.2,1056.5 L488.0,1053.2 L488.2,1049.9 L488.8,1046.5 L489.8,1043.2 L491.2,1040.0 L493.0,1036.8 L495.2,1033.7 L497.8,1030.7 L500.7,1027.8 L503.9,1025.0 L507.5,1022.3 L511.4,1019.9 L515.6,1017.5 L520.1,1015.4 L524.8,1013.4 L529.8,1011.6 L534.9,1010.1 L540.2,1008.7 L545.7,1007.5 L551.3,1006.6 L557.0,1005.9 L562.8,1005.5 L568.6,1005.2 L574.4,1005.2 L580.2,1005.5 L586.0,1005.9 L591.7,1006.6 L597.3,1007.5 L602.8,1008.7 L608.1,1010.1 L613.2,1011.6 L618.2,1013.4 L622.9,1015.4 L627.4,1017.5"/><path d="M629.7,1024.9 L633.0,1027.3 L636.0,1029.9 L638.6,1032.5 L640.9,1035.3 L642.9,1038.2 L644.6,1041.1 L645.8,1044.1 L646.8,1047.1 L647.3,1050.1 L647.5,1053.2 L647.3,1056.3 L646.8,1059.3 L645.8,1062.3 L644.6,1065.3 L642.9,1068.2 L640.9,1071.1 L638.6,1073.9 L636.0,1076.5 L633.0,1079.1 L629.7,1081.5 L626.2,1083.8 L622.4,1085.9 L618.3,1087.9 L614.0,1089.7 L609.5,1091.3 L604.8,1092.7 L600.0,1094.0 L595.0,1095.0 L589.9,1095.9 L584.7,1096.5 L579.4,1097.0 L574.2,1097.2 L568.8,1097.2 L563.6,1097.0 L558.3,1096.5 L553.1,1095.9 L548.0,1095.0 L543.0,1094.0 L538.2,1092.7 L533.5,1091.3 L529.0,1089.7 L524.7,1087.9 L520.6,1085.9 L516.8,1083.8 L513.3,1081.5 L510.0,1079.1 L507.0,1076.5 L504.4,1073.9 L502.1,1071.1 L500.1,1068.2 L498.4,1065.3 L497.2,1062.3 L496.2,1059.3 L495.7,1056.3 L495.5,1053.2 L495.7,1050.1 L496.2,1047.1 L497.2,1044.1 L498.4,1041.1 L500.1,1038.2 L502.1,1035.3 L504.4,1032.5 L507.0,1029.9 L510.0,1027.3 L513.3,1024.9 L516.8,1022.6 L520.6,1020.5 L524.7,1018.5 L529.0,1016.7 L533.5,1015.1 L538.2,1013.7 L543.0,1012.4 L548.0,1011.4 L553.1,1010.5 L558.3,1009.9 L563.6,1009.4 L568.8,1009.2 L574.2,1009.2 L579.4,1009.4 L584.7,1009.9 L589.9,1010.5 L595.0,1011.4 L600.0,1012.4 L604.8,1013.7 L609.5,1015.1 L614.0,1016.7 L618.3,1018.5 L622.4,1020.5"/><path d="M627.4,1017.5 L622.4,1020.5"/><path d="M635.5,1022.3 L629.7,1024.9"/><path style="fill:#fff;stroke:none;vector-effect:none" fill-rule="evenodd" d="M488.0,1011.4 a83.5,48 0 1,0 167.0,0 a83.5,48 0 1,0 -167.0,0 Z M495.5,1011.4 a76,44 0 1,0 152,0 a76,44 0 1,0 -152,0 Z"/><path d="M635.5,980.5 L639.1,983.2 L642.3,986.0 L645.2,988.9 L647.8,991.9 L650.0,995.0 L651.8,998.2 L653.2,1001.4 L654.2,1004.7 L654.8,1008.1 L655.0,1011.4 L654.8,1014.7 L654.2,1018.1 L653.2,1021.4 L651.8,1024.6 L650.0,1027.8 L647.8,1030.9 L645.2,1033.9 L642.3,1036.8 L639.1,1039.6 L635.5,1042.3 L631.6,1044.7 L627.4,1047.1 L622.9,1049.2 L618.2,1051.2 L613.2,1053.0 L608.1,1054.5 L602.8,1055.9 L597.3,1057.1 L591.7,1058.0 L586.0,1058.7 L580.2,1059.1 L574.4,1059.4 L568.6,1059.4 L562.8,1059.1 L557.0,1058.7 L551.3,1058.0 L545.7,1057.1 L540.2,1055.9 L534.9,1054.5 L529.8,1053.0 L524.8,1051.2 L520.1,1049.2 L515.6,1047.1 L511.4,1044.7 L507.5,1042.3 L503.9,1039.6 L500.7,1036.8 L497.8,1033.9 L495.2,1030.9 L493.0,1027.8 L491.2,1024.6 L489.8,1021.4 L488.8,1018.1 L488.2,1014.7 L488.0,1011.4 L488.2,1008.1 L488.8,1004.7 L489.8,1001.4 L491.2,998.2 L493.0,995.0 L495.2,991.9 L497.8,988.9 L500.7,986.0 L503.9,983.2 L507.5,980.5 L511.4,978.1 L515.6,975.7 L520.1,973.6 L524.8,971.6 L529.8,969.8 L534.9,968.3 L540.2,966.9 L545.7,965.7 L551.3,964.8 L557.0,964.1 L562.8,963.7 L568.6,963.4 L574.4,963.4 L580.2,963.7 L586.0,964.1 L591.7,964.8 L597.3,965.7 L602.8,966.9 L608.1,968.3 L613.2,969.8 L618.2,971.6 L622.9,973.6 L627.4,975.7"/><path d="M629.7,983.1 L633.0,985.5 L636.0,988.1 L638.6,990.7 L640.9,993.5 L642.9,996.4 L644.6,999.3 L645.8,1002.3 L646.8,1005.3 L647.3,1008.3 L647.5,1011.4 L647.3,1014.5 L646.8,1017.5 L645.8,1020.5 L644.6,1023.5 L642.9,1026.4 L640.9,1029.3 L638.6,1032.1 L636.0,1034.7 L633.0,1037.3 L629.7,1039.7 L626.2,1042.0 L622.4,1044.1 L618.3,1046.1 L614.0,1047.9 L609.5,1049.5 L604.8,1050.9 L600.0,1052.2 L595.0,1053.2 L589.9,1054.1 L584.7,1054.7 L579.4,1055.2 L574.2,1055.4 L568.8,1055.4 L563.6,1055.2 L558.3,1054.7 L553.1,1054.1 L548.0,1053.2 L543.0,1052.2 L538.2,1050.9 L533.5,1049.5 L529.0,1047.9 L524.7,1046.1 L520.6,1044.1 L516.8,1042.0 L513.3,1039.7 L510.0,1037.3 L507.0,1034.7 L504.4,1032.1 L502.1,1029.3 L500.1,1026.4 L498.4,1023.5 L497.2,1020.5 L496.2,1017.5 L495.7,1014.5 L495.5,1011.4 L495.7,1008.3 L496.2,1005.3 L497.2,1002.3 L498.4,999.3 L500.1,996.4 L502.1,993.5 L504.4,990.7 L507.0,988.1 L510.0,985.5 L513.3,983.1 L516.8,980.8 L520.6,978.7 L524.7,976.7 L529.0,974.9 L533.5,973.3 L538.2,971.9 L543.0,970.6 L548.0,969.6 L553.1,968.7 L558.3,968.1 L563.6,967.6 L568.8,967.4 L574.2,967.4 L579.4,967.6 L584.7,968.1 L589.9,968.7 L595.0,969.6 L600.0,970.6 L604.8,971.9 L609.5,973.3 L614.0,974.9 L618.3,976.7 L622.4,978.7"/><path d="M627.4,975.7 L622.4,978.7"/><path d="M635.5,980.5 L629.7,983.1"/><path style="fill:#fff;stroke:none;vector-effect:none" fill-rule="evenodd" d="M488.0,969.5999999999999 a83.5,48 0 1,0 167.0,0 a83.5,48 0 1,0 -167.0,0 Z M495.5,969.5999999999999 a76,44 0 1,0 152,0 a76,44 0 1,0 -152,0 Z"/><path d="M635.5,938.7 L639.1,941.4 L642.3,944.2 L645.2,947.1 L647.8,950.1 L650.0,953.2 L651.8,956.4 L653.2,959.6 L654.2,962.9 L654.8,966.3 L655.0,969.6 L654.8,972.9 L654.2,976.3 L653.2,979.6 L651.8,982.8 L650.0,986.0 L647.8,989.1 L645.2,992.1 L642.3,995.0 L639.1,997.8 L635.5,1000.5 L631.6,1002.9 L627.4,1005.3 L622.9,1007.4 L618.2,1009.4 L613.2,1011.2 L608.1,1012.7 L602.8,1014.1 L597.3,1015.3 L591.7,1016.2 L586.0,1016.9 L580.2,1017.3 L574.4,1017.6 L568.6,1017.6 L562.8,1017.3 L557.0,1016.9 L551.3,1016.2 L545.7,1015.3 L540.2,1014.1 L534.9,1012.7 L529.8,1011.2 L524.8,1009.4 L520.1,1007.4 L515.6,1005.3 L511.4,1002.9 L507.5,1000.5 L503.9,997.8 L500.7,995.0 L497.8,992.1 L495.2,989.1 L493.0,986.0 L491.2,982.8 L489.8,979.6 L488.8,976.3 L488.2,972.9 L488.0,969.6 L488.2,966.3 L488.8,962.9 L489.8,959.6 L491.2,956.4 L493.0,953.2 L495.2,950.1 L497.8,947.1 L500.7,944.2 L503.9,941.4 L507.5,938.7 L511.4,936.3 L515.6,933.9 L520.1,931.8 L524.8,929.8 L529.8,928.0 L534.9,926.5 L540.2,925.1 L545.7,923.9 L551.3,923.0 L557.0,922.3 L562.8,921.9 L568.6,921.6 L574.4,921.6 L580.2,921.9 L586.0,922.3 L591.7,923.0 L597.3,923.9 L602.8,925.1 L608.1,926.5 L613.2,928.0 L618.2,929.8 L622.9,931.8 L627.4,933.9"/><path d="M629.7,941.3 L633.0,943.7 L636.0,946.3 L638.6,948.9 L640.9,951.7 L642.9,954.6 L644.6,957.5 L645.8,960.5 L646.8,963.5 L647.3,966.5 L647.5,969.6 L647.3,972.7 L646.8,975.7 L645.8,978.7 L644.6,981.7 L642.9,984.6 L640.9,987.5 L638.6,990.3 L636.0,992.9 L633.0,995.5 L629.7,997.9 L626.2,1000.2 L622.4,1002.3 L618.3,1004.3 L614.0,1006.1 L609.5,1007.7 L604.8,1009.1 L600.0,1010.4 L595.0,1011.4 L589.9,1012.3 L584.7,1012.9 L579.4,1013.4 L574.2,1013.6 L568.8,1013.6 L563.6,1013.4 L558.3,1012.9 L553.1,1012.3 L548.0,1011.4 L543.0,1010.4 L538.2,1009.1 L533.5,1007.7 L529.0,1006.1 L524.7,1004.3 L520.6,1002.3 L516.8,1000.2 L513.3,997.9 L510.0,995.5 L507.0,992.9 L504.4,990.3 L502.1,987.5 L500.1,984.6 L498.4,981.7 L497.2,978.7 L496.2,975.7 L495.7,972.7 L495.5,969.6 L495.7,966.5 L496.2,963.5 L497.2,960.5 L498.4,957.5 L500.1,954.6 L502.1,951.7 L504.4,948.9 L507.0,946.3 L510.0,943.7 L513.3,941.3 L516.8,939.0 L520.6,936.9 L524.7,934.9 L529.0,933.1 L533.5,931.5 L538.2,930.1 L543.0,928.8 L548.0,927.8 L553.1,926.9 L558.3,926.3 L563.6,925.8 L568.8,925.6 L574.2,925.6 L579.4,925.8 L584.7,926.3 L589.9,926.9 L595.0,927.8 L600.0,928.8 L604.8,930.1 L609.5,931.5 L614.0,933.1 L618.3,934.9 L622.4,936.9"/><path d="M627.4,933.9 L622.4,936.9"/><path d="M635.5,938.7 L629.7,941.3"/><path style="fill:#fff;stroke:none;vector-effect:none" fill-rule="evenodd" d="M488.0,927.8 a83.5,48 0 1,0 167.0,0 a83.5,48 0 1,0 -167.0,0 Z M495.5,927.8 a76,44 0 1,0 152,0 a76,44 0 1,0 -152,0 Z"/><path d="M635.5,896.9 L639.1,899.6 L642.3,902.4 L645.2,905.3 L647.8,908.3 L650.0,911.4 L651.8,914.6 L653.2,917.8 L654.2,921.1 L654.8,924.5 L655.0,927.8 L654.8,931.1 L654.2,934.5 L653.2,937.8 L651.8,941.0 L650.0,944.2 L647.8,947.3 L645.2,950.3 L642.3,953.2 L639.1,956.0 L635.5,958.7 L631.6,961.1 L627.4,963.5 L622.9,965.6 L618.2,967.6 L613.2,969.4 L608.1,970.9 L602.8,972.3 L597.3,973.5 L591.7,974.4 L586.0,975.1 L580.2,975.5 L574.4,975.8 L568.6,975.8 L562.8,975.5 L557.0,975.1 L551.3,974.4 L545.7,973.5 L540.2,972.3 L534.9,970.9 L529.8,969.4 L524.8,967.6 L520.1,965.6 L515.6,963.5 L511.4,961.1 L507.5,958.7 L503.9,956.0 L500.7,953.2 L497.8,950.3 L495.2,947.3 L493.0,944.2 L491.2,941.0 L489.8,937.8 L488.8,934.5 L488.2,931.1 L488.0,927.8 L488.2,924.5 L488.8,921.1 L489.8,917.8 L491.2,914.6 L493.0,911.4 L495.2,908.3 L497.8,905.3 L500.7,902.4 L503.9,899.6 L507.5,896.9 L511.4,894.5 L515.6,892.1 L520.1,890.0 L524.8,888.0 L529.8,886.2 L534.9,884.7 L540.2,883.3 L545.7,882.1 L551.3,881.2 L557.0,880.5 L562.8,880.1 L568.6,879.8 L574.4,879.8 L580.2,880.1 L586.0,880.5 L591.7,881.2 L597.3,882.1 L602.8,883.3 L608.1,884.7 L613.2,886.2 L618.2,888.0 L622.9,890.0 L627.4,892.1"/><path d="M629.7,899.5 L633.0,901.9 L636.0,904.5 L638.6,907.1 L640.9,909.9 L642.9,912.8 L644.6,915.7 L645.8,918.7 L646.8,921.7 L647.3,924.7 L647.5,927.8 L647.3,930.9 L646.8,933.9 L645.8,936.9 L644.6,939.9 L642.9,942.8 L640.9,945.7 L638.6,948.5 L636.0,951.1 L633.0,953.7 L629.7,956.1 L626.2,958.4 L622.4,960.5 L618.3,962.5 L614.0,964.3 L609.5,965.9 L604.8,967.3 L600.0,968.6 L595.0,969.6 L589.9,970.5 L584.7,971.1 L579.4,971.6 L574.2,971.8 L568.8,971.8 L563.6,971.6 L558.3,971.1 L553.1,970.5 L548.0,969.6 L543.0,968.6 L538.2,967.3 L533.5,965.9 L529.0,964.3 L524.7,962.5 L520.6,960.5 L516.8,958.4 L513.3,956.1 L510.0,953.7 L507.0,951.1 L504.4,948.5 L502.1,945.7 L500.1,942.8 L498.4,939.9 L497.2,936.9 L496.2,933.9 L495.7,930.9 L495.5,927.8 L495.7,924.7 L496.2,921.7 L497.2,918.7 L498.4,915.7 L500.1,912.8 L502.1,909.9 L504.4,907.1 L507.0,904.5 L510.0,901.9 L513.3,899.5 L516.8,897.2 L520.6,895.1 L524.7,893.1 L529.0,891.3 L533.5,889.7 L538.2,888.3 L543.0,887.0 L548.0,886.0 L553.1,885.1 L558.3,884.5 L563.6,884.0 L568.8,883.8 L574.2,883.8 L579.4,884.0 L584.7,884.5 L589.9,885.1 L595.0,886.0 L600.0,887.0 L604.8,888.3 L609.5,889.7 L614.0,891.3 L618.3,893.1 L622.4,895.1"/><path d="M627.4,892.1 L622.4,895.1"/><path d="M635.5,896.9 L629.7,899.5"/></g>
<g transform="translate(870,960) scale(0.139412)" stroke-width="2">
<path d="M385,210 C450,180 560,160 650,160 C850,160 1000,230 1050,320 C1075,370 1070,460 1060,490"/>
<path d="M385,210 L430,238 L430,460 L415,470 L385,450 Z"/>
<path d="M430,238 C500,210 580,200 650,200 C800,200 930,250 990,330 C1010,360 1010,420 1000,470"/>
<path d="M415,470 C500,440 600,425 690,425 C800,425 900,460 950,505"/>
<path d="M550,205 L550,430 M680,200 L680,425 M805,208 L805,435 M910,250 L910,470 M990,320 L990,480"/>
<path d="M895,550 L940,540 L940,730 L900,710 Z"/>
<path d="M940,540 L1060,470 M940,630 L1060,560 M940,730 L1060,625 L1060,480"/>
<path d="M230,325 C160,360 120,450 120,560 L120,640 C130,760 300,870 520,885 C620,890 700,880 765,860"/>
<path d="M230,325 L270,345 L270,600"/>
<path d="M270,345 C210,370 185,430 185,500 C190,580 280,650 420,680 C560,700 680,690 740,655 L765,680 L765,860"/>
<path d="M215,385 L212,540 M240,370 L240,570"/>
<path d="M130,600 C200,700 380,780 520,790 C620,795 700,785 765,765"/>
<path d="M1050,630 L1240,800 L1030,970 L765,860"/>
<path d="M1150,900 L1325,1020"/>
<path d="M-382,-118 L330,290"/>
</g>
<g transform="translate(870,1084.8) scale(0.139412)" stroke-width="2">
<path d="M385,210 C450,180 560,160 650,160 C850,160 1000,230 1050,320 C1075,370 1070,460 1060,490"/>
<path d="M385,210 L430,238 L430,460 L415,470 L385,450 Z"/>
<path d="M430,238 C500,210 580,200 650,200 C800,200 930,250 990,330 C1010,360 1010,420 1000,470"/>
<path d="M415,470 C500,440 600,425 690,425 C800,425 900,460 950,505"/>
<path d="M550,205 L550,430 M680,200 L680,425 M805,208 L805,435 M910,250 L910,470 M990,320 L990,480"/>
<path d="M895,550 L940,540 L940,730 L900,710 Z"/>
<path d="M940,540 L1060,470 M940,630 L1060,560 M940,730 L1060,625 L1060,480"/>
<path d="M230,325 C160,360 120,450 120,560 L120,640 C130,760 300,870 520,885 C620,890 700,880 765,860"/>
<path d="M230,325 L270,345 L270,600"/>
<path d="M270,345 C210,370 185,430 185,500 C190,580 280,650 420,680 C560,700 680,690 740,655 L765,680 L765,860"/>
<path d="M215,385 L212,540 M240,370 L240,570"/>
<path d="M130,600 C200,700 380,780 520,790 C620,795 700,785 765,765"/>
<path d="M1050,630 L1240,800 L1030,970 L765,860"/>
<path d="M1150,900 L1325,1020"/>
<path d="M-382,-118 L330,290"/>
</g>
<g transform="translate(300,690) scale(0.177431)" stroke-width="2">
<path d="M320,75 L690,90"/>
<path d="M540,82 L680,90" stroke-width="3"/>
<path d="M320,75 L95,1010 L120,1025"/>
<path d="M160,335 L245,350"/>
<path d="M190,650 L500,850"/>
<path d="M690,200 L690,235 L775,235 L775,200"/>
<path d="M1125,220 L1125,265 L1215,270 L1215,220"/>
<path d="M700,510 L700,365 C760,300 830,275 880,275 C970,275 1040,310 1060,360 L1060,510 L1020,510 L1020,380 M700,510 L745,510 L745,380"/>
<path d="M740,365 C790,315 850,300 880,300 C950,300 1010,325 1025,370"/>
<path d="M745,510 C770,470 830,440 885,440 C950,440 1000,470 1020,505"/>
<path d="M765,340 L765,470 M790,325 L790,455 M815,315 L815,448 M840,308 L840,443 M865,303 L865,440 M890,302 L890,440 M915,303 L915,442 M940,307 L940,447 M965,315 L965,455 M990,325 L990,465 M1010,340 L1010,480"/>
<path d="M670,540 L670,680 C680,740 760,775 845,775 C940,775 1020,740 1025,680 L1025,540 L990,540 C985,590 920,620 845,620 C780,620 720,590 715,540 Z"/>
<path d="M672,660 C690,700 760,720 845,720 C930,720 1010,700 1023,660"/>
<path d="M1060,420 L1360,370 L1360,590 L1030,655 M1360,470 L1470,460 M1100,520 L1310,545 M1435,545 L1578,558"/>
<path d="M520,830 L600,820 L605,830 C620,880 700,915 790,915 C870,915 920,885 935,830 L975,820 L980,855 L1050,860 L1055,885 L1035,985 L1000,1000 C970,1040 900,1080 800,1080 C700,1080 610,1040 570,990 L520,960 L500,960 L500,860 Z"/>
<path d="M545,830 C560,900 680,950 790,950 C880,950 940,920 980,855"/>
<path d="M575,990 C620,1000 700,1015 760,1012 L900,995 L1035,960"/>
<ellipse cx="545" cy="935" rx="28" ry="24"/>
<ellipse cx="545" cy="935" rx="14" ry="12"/>
<ellipse cx="612" cy="975" rx="14" ry="12"/>
<rect x="742" y="1000" width="30" height="22"/>
<ellipse cx="905" cy="995" rx="16" ry="13"/>
<ellipse cx="980" cy="975" rx="28" ry="24"/>
<path d="M880,940 L1040,900 M1045,860 L1020,990"/>
<path d="M515,1045 L540,930"/>
<path d="M482,1075 C482,1065 545,1065 545,1075 L545,1185 M482,1075 L482,1185"/>
<path d="M482,1100 L545,1100 M482,1125 L545,1125 M482,1150 L545,1150"/>
<path d="M410,1215 C410,1185 545,1180 548,1215 L548,1270 M410,1215 L408,1265"/>
<ellipse cx="470" cy="1265" rx="65" ry="48"/>
<path d="M425,1190 L425,1240 M450,1185 L450,1235 M475,1185 L475,1235 M500,1185 L500,1235 M525,1188 L525,1240"/>
<path d="M380,1180 L420,1200"/>
</g>
<g transform="translate(870,740) scale(0.145751)" stroke-width="2">
<path d="M480,245 L510,175 L1540,265 L1550,640"/>
<path d="M905,225 L760,600"/>
<path d="M1135,65 L1095,225"/>
<path d="M120,600 C100,640 100,740 125,770 L200,785 C225,740 225,640 205,590 Z"/>
<path d="M125,610 L125,760 M150,595 L150,775 M175,590 L175,780"/>
<path d="M210,650 L415,650 C430,660 430,730 415,740 L210,735"/>
<path d="M290,650 L290,738 M320,650 L320,738 M350,650 L350,738 M380,650 L380,738 M405,652 L405,738"/>
<path d="M375,495 L310,650"/>
<path d="M0,805 L470,835"/>
<path d="M640,610 C560,650 510,720 510,800 L505,950 L590,1055 L745,1055 L775,1030 L775,880 L760,870"/>
<path d="M640,610 L660,590 L815,600 L825,615 L825,740 L790,790 L780,790 L780,645 L650,615"/>
<path d="M780,640 C660,650 570,700 560,790 C560,850 620,870 760,880"/>
<path d="M590,935 L745,935 L745,1055 M590,935 L590,1055 M745,935 L775,880 M600,940 L720,940"/>
<path d="M510,800 L590,935"/>
<ellipse cx="680" cy="725" rx="30" ry="20"/>
<ellipse cx="545" cy="940" rx="18" ry="28"/>
<path d="M1115,657 C980,660 862,710 860,790 L860,980 C870,1050 950,1090 1035,1095 L1035,885 C960,875 900,840 900,790 C900,740 990,700 1115,697 Z"/>
<path d="M1170,660 C1290,670 1375,715 1375,790 L1375,980 C1365,1050 1260,1095 1130,1100 L1130,885 C1250,880 1335,840 1335,790 C1335,740 1260,705 1170,700 Z"/>
<path d="M930,760 L930,840 M970,720 L970,860 M1010,705 L1010,870 M1050,700 L1050,872 M1090,698 L1090,860"/>
<path d="M1190,700 L1190,860 M1230,705 L1230,872 M1270,715 L1270,865 M1305,735 L1305,850"/>
<path d="M975,1080 L1000,1370 L1210,1370 L1225,1100 M1090,1375 L1090,1490"/>
</g>
<g transform="translate(1070,800) scale(0.164772)" stroke-width="2">
<path d="M95,385 L95,215 L220,215 L225,245 C285,290 315,330 330,350"/>
<path d="M100,250 C200,260 258,310 258,370 C258,420 210,455 120,460 L60,465 L35,520 L35,635 L125,655 L140,640 C200,610 260,580 300,570"/>
<path d="M40,520 L125,530 L125,655"/>
<path d="M125,530 C180,510 260,500 310,495"/>
<ellipse cx="175" cy="582" rx="22" ry="42" transform="rotate(20 175 582)"/>
<path d="M95,385 L210,410"/>
<path d="M330,350 L900,405"/>
<path d="M300,570 L910,610"/>
<path d="M330,390 L870,430 L870,500 L300,465 Z"/>
<ellipse cx="1065" cy="440" rx="150" ry="80"/>
<path d="M1030,372 C990,375 955,400 955,440 C955,480 1000,500 1065,500 C1130,500 1170,480 1170,440 C1170,400 1130,375 1090,372"/>
<circle cx="1005" cy="440" r="20"/>
<path d="M915,440 L915,630 C950,680 1000,695 1065,695 C1150,695 1210,660 1220,600 L1220,470"/>
<path d="M985,605 C1050,612 1150,600 1215,560"/>
<ellipse cx="932" cy="580" rx="14" ry="25"/>
<path d="M1060,360 L1060,455 M1060,735 L1060,845"/>
<path d="M1245,480 L1535,480"/>
<ellipse cx="1060" cy="62" rx="140" ry="60"/>
<ellipse cx="1060" cy="68" rx="105" ry="44"/>
<path d="M920,62 L920,250 M1200,62 L1200,250"/>
<path d="M920,250 C940,290 1000,310 1060,310 C1120,310 1180,290 1200,250"/>
<path d="M960,120 L960,295 M1000,122 L1000,305 M1040,122 L1040,310 M1080,122 L1080,310 M1120,122 L1120,305 M1160,120 L1160,295"/>
<path d="M1000,30 L1000,110 M1040,25 L1040,112 M1080,25 L1080,112 M1120,30 L1120,110"/>
<path d="M650,0 L915,125"/>
<ellipse cx="1060" cy="820" rx="140" ry="60"/>
<ellipse cx="1060" cy="830" rx="100" ry="42"/>
<path d="M920,820 L920,860 M1200,820 L1200,860 M920,860 C940,900 1000,920 1060,920 C1120,920 1180,900 1200,860"/>
<path d="M620,920 L915,870"/>
</g>
<g transform="translate(1290,700) scale(0.164772)" stroke-width="2">
<ellipse cx="515" cy="160" rx="110" ry="62"/>
<ellipse cx="515" cy="165" rx="80" ry="42"/>
<path d="M420,200 C450,220 480,225 515,225 C550,225 590,220 615,200" stroke-width="3"/>
<path d="M405,160 L405,590 C410,630 460,645 515,645 C570,645 620,630 625,590 L625,160"/>
<path d="M80,270 L400,325"/>
<path d="M515,670 L515,760"/>
<path d="M230,890 L75,890 L72,1080 M75,1100 C80,1250 100,1320 120,1340 L320,1345 L345,1375 L870,1380"/>
<path d="M220,815 L240,900 L240,1250 L225,1255 L410,1250 L372,1375 M480,1372 L485,1240 L750,1240 L705,1375"/>
<path d="M220,815 L265,800 C270,750 310,710 350,705 C390,705 420,760 430,790 L745,790 L740,705 L850,705"/>
<path d="M380,710 C395,760 380,790 330,800 L265,800"/>
<path d="M630,780 C640,730 670,705 700,705 C720,705 735,740 745,790"/>
<path d="M430,790 C440,750 470,740 510,740 C560,740 600,760 630,780"/>
<path d="M470,1255 C460,1320 470,1360 500,1360 L560,1340 C600,1320 640,1330 680,1380"/>
<path d="M745,710 C800,780 830,900 830,1040 C830,1200 800,1320 760,1380"/>
<path d="M775,710 C830,780 865,900 865,1040 C865,1200 835,1320 795,1380"/>
<path d="M810,710 C860,780 900,900 900,1040 C900,1200 870,1320 830,1380"/>
<path d="M850,705 C900,780 935,900 935,1040 C935,1200 905,1320 860,1380"/>
<path d="M720,790 C780,900 800,1000 800,1050 C800,1150 780,1200 750,1240"/>
<path d="M385,985 C385,960 430,945 480,945 C530,945 572,960 572,985 L572,1145 C572,1165 530,1178 480,1178 C430,1178 385,1165 385,1145 Z"/>
<path d="M420,975 C430,1000 480,1012 570,1012 M420,1160 C440,1110 500,1100 570,1100"/>
<path d="M865,310 L760,705"/>
<path d="M0,1085 L195,1085"/>
<path d="M515,1380 L515,1490"/>
<path d="M1215,310 L1215,392 M1110,395 L1335,395 M1110,395 L1095,680 M1335,395 L1385,680"/>
<path d="M1190.0,1022.0 L1189.8,1046.1 L1189.1,1070.1 L1187.9,1093.9 L1186.2,1117.3 L1184.1,1140.2 L1181.6,1162.5 L1178.6,1184.2 L1175.3,1205.0 L1171.5,1224.9 L1167.3,1243.8 L1162.8,1261.6 L1157.9,1278.2 L1152.7,1293.6 L1147.3,1307.6 L1141.6,1320.1 L1135.6,1331.2 L1129.4,1340.7 L1123.1,1348.7 L1116.6,1355.0 L1110.1,1359.7 L1103.4,1362.7 L1096.7,1363.9 L1090.0,1363.5 L1083.3,1361.4 L1076.7,1357.6 L1070.2,1352.1 L1063.8,1345.0 L1057.5,1336.3 L1051.5,1326.0 L1045.6,1314.2 L1040.0,1300.9 L1034.7,1286.3 L1029.7,1270.3 L1025.0,1253.1 L1020.6,1234.7 L1016.6,1215.3 L1013.0,1195.0 L1009.9,1173.7 L1007.1,1151.7 L1004.8,1129.1 L1002.9,1105.9 L1001.5,1082.3 L1000.5,1058.4 L1000.1,1034.4 L1000.1,1010.2 L1000.5,986.2 L1001.5,962.3 L1002.9,938.7 L1004.7,915.5 L1007.0,892.8 L1009.8,870.8 L1013.0,849.6 L1016.5,829.2 L1020.5,809.7 L1024.9,791.3 L1029.6,774.1 L1034.6,758.1 L1039.9,743.4 L1045.5,730.1 L1051.3,718.3 L1057.4,708.0 L1063.6,699.2 L1070.0,692.0 L1076.6,686.5 L1083.2,682.7 L1089.8,680.5 L1096.6,680.0 L1103.2,681.3 L1109.9,684.2 L1116.5,688.9 L1123.0,695.1 L1129.3,703.0 L1135.4,712.5 L1141.4,723.6 L1147.1,736.1 L1152.6,750.1 L1157.8,765.4 L1162.7,781.9 L1167.2,799.7 L1171.4,818.6 L1175.2,838.5 L1178.6,859.3 L1181.5,880.9 L1184.1,903.2 L1186.2,926.2 L1187.8,949.5 L1189.0,973.3 L1189.8,997.3 L1190.0,1021.4"/><path d="M1165.0,1022.0 L1164.8,1042.1 L1164.3,1062.1 L1163.4,1081.9 L1162.2,1101.4 L1160.7,1120.5 L1158.8,1139.1 L1156.6,1157.1 L1154.1,1174.5 L1151.3,1191.1 L1148.3,1206.9 L1144.9,1221.7 L1141.4,1235.5 L1137.5,1248.3 L1133.5,1260.0 L1129.3,1270.4 L1124.9,1279.7 L1120.4,1287.6 L1115.7,1294.2 L1110.9,1299.5 L1106.1,1303.4 L1101.2,1305.9 L1096.3,1307.0 L1091.3,1306.6 L1086.4,1304.8 L1081.5,1301.7 L1076.7,1297.1 L1072.0,1291.2 L1067.4,1283.9 L1062.9,1275.3 L1058.6,1265.5 L1054.5,1254.4 L1050.6,1242.2 L1046.9,1228.9 L1043.4,1214.6 L1040.2,1199.3 L1037.3,1183.1 L1034.6,1166.1 L1032.3,1148.4 L1030.2,1130.1 L1028.5,1111.2 L1027.1,1091.9 L1026.1,1072.3 L1025.4,1052.4 L1025.0,1032.3 L1025.0,1012.2 L1025.4,992.1 L1026.1,972.2 L1027.1,952.6 L1028.5,933.2 L1030.2,914.4 L1032.2,896.0 L1034.5,878.3 L1037.2,861.3 L1040.1,845.1 L1043.3,829.8 L1046.8,815.4 L1050.5,802.1 L1054.4,789.9 L1058.5,778.8 L1062.8,768.9 L1067.3,760.3 L1071.9,753.0 L1076.6,747.0 L1081.4,742.4 L1086.3,739.2 L1091.2,737.4 L1096.1,737.0 L1101.1,738.1 L1106.0,740.5 L1110.8,744.4 L1115.6,749.6 L1120.3,756.2 L1124.8,764.1 L1129.2,773.3 L1133.4,783.8 L1137.4,795.4 L1141.3,808.1 L1144.9,822.0 L1148.2,836.8 L1151.3,852.5 L1154.1,869.1 L1156.6,886.4 L1158.8,904.4 L1160.6,923.0 L1162.2,942.1 L1163.4,961.6 L1164.3,981.4 L1164.8,1001.4 L1165.0,1021.5"/><path d="M1180.0,935.3 L1181.5,960.2 L1182.5,985.5 L1183.0,1011.0 L1182.9,1036.6 L1182.4,1062.1 L1181.3,1087.4 L1179.7,1112.2 L1177.7,1136.6" stroke-width="4"/><path d="M1480.0,1022.0 L1479.8,1046.1 L1479.1,1070.1 L1477.9,1093.9 L1476.2,1117.3 L1474.1,1140.2 L1471.6,1162.5 L1468.6,1184.2 L1465.3,1205.0 L1461.5,1224.9 L1457.3,1243.8 L1452.8,1261.6 L1447.9,1278.2 L1442.7,1293.6 L1437.3,1307.6 L1431.6,1320.1 L1425.6,1331.2 L1419.4,1340.7 L1413.1,1348.7 L1406.6,1355.0 L1400.1,1359.7 L1393.4,1362.7 L1386.7,1363.9 L1380.0,1363.5 L1373.3,1361.4 L1366.7,1357.6 L1360.2,1352.1 L1353.8,1345.0 L1347.5,1336.3 L1341.5,1326.0 L1335.6,1314.2 L1330.0,1300.9 L1324.7,1286.3 L1319.7,1270.3 L1315.0,1253.1 L1310.6,1234.7 L1306.6,1215.3 L1303.0,1195.0 L1299.9,1173.7 L1297.1,1151.7 L1294.8,1129.1 L1292.9,1105.9 L1291.5,1082.3 L1290.5,1058.4 L1290.1,1034.4 L1290.1,1010.2 L1290.5,986.2 L1291.5,962.3 L1292.9,938.7 L1294.7,915.5 L1297.0,892.8 L1299.8,870.8 L1303.0,849.6 L1306.5,829.2 L1310.5,809.7 L1314.9,791.3 L1319.6,774.1 L1324.6,758.1 L1329.9,743.4 L1335.5,730.1 L1341.3,718.3 L1347.4,708.0 L1353.6,699.2 L1360.0,692.0 L1366.6,686.5 L1373.2,682.7 L1379.8,680.5 L1386.6,680.0 L1393.2,681.3 L1399.9,684.2 L1406.5,688.9 L1413.0,695.1 L1419.3,703.0 L1425.4,712.5 L1431.4,723.6 L1437.1,736.1 L1442.6,750.1 L1447.8,765.4 L1452.7,781.9 L1457.2,799.7 L1461.4,818.6 L1465.2,838.5 L1468.6,859.3 L1471.5,880.9 L1474.1,903.2 L1476.2,926.2 L1477.8,949.5 L1479.0,973.3 L1479.8,997.3 L1480.0,1021.4"/><path d="M1455.0,1022.0 L1454.8,1042.1 L1454.3,1062.1 L1453.4,1081.9 L1452.2,1101.4 L1450.7,1120.5 L1448.8,1139.1 L1446.6,1157.1 L1444.1,1174.5 L1441.3,1191.1 L1438.3,1206.9 L1434.9,1221.7 L1431.4,1235.5 L1427.5,1248.3 L1423.5,1260.0 L1419.3,1270.4 L1414.9,1279.7 L1410.4,1287.6 L1405.7,1294.2 L1400.9,1299.5 L1396.1,1303.4 L1391.2,1305.9 L1386.3,1307.0 L1381.3,1306.6 L1376.4,1304.8 L1371.5,1301.7 L1366.7,1297.1 L1362.0,1291.2 L1357.4,1283.9 L1352.9,1275.3 L1348.6,1265.5 L1344.5,1254.4 L1340.6,1242.2 L1336.9,1228.9 L1333.4,1214.6 L1330.2,1199.3 L1327.3,1183.1 L1324.6,1166.1 L1322.3,1148.4 L1320.2,1130.1 L1318.5,1111.2 L1317.1,1091.9 L1316.1,1072.3 L1315.4,1052.4 L1315.0,1032.3 L1315.0,1012.2 L1315.4,992.1 L1316.1,972.2 L1317.1,952.6 L1318.5,933.2 L1320.2,914.4 L1322.2,896.0 L1324.5,878.3 L1327.2,861.3 L1330.1,845.1 L1333.3,829.8 L1336.8,815.4 L1340.5,802.1 L1344.4,789.9 L1348.5,778.8 L1352.8,768.9 L1357.3,760.3 L1361.9,753.0 L1366.6,747.0 L1371.4,742.4 L1376.3,739.2 L1381.2,737.4 L1386.1,737.0 L1391.1,738.1 L1396.0,740.5 L1400.8,744.4 L1405.6,749.6 L1410.3,756.2 L1414.8,764.1 L1419.2,773.3 L1423.4,783.8 L1427.4,795.4 L1431.3,808.1 L1434.9,822.0 L1438.2,836.8 L1441.3,852.5 L1444.1,869.1 L1446.6,886.4 L1448.8,904.4 L1450.6,923.0 L1452.2,942.1 L1453.4,961.6 L1454.3,981.4 L1454.8,1001.4 L1455.0,1021.5"/><path d="M1470.0,935.3 L1471.5,960.2 L1472.5,985.5 L1473.0,1011.0 L1472.9,1036.6 L1472.4,1062.1 L1471.3,1087.4 L1469.7,1112.2 L1467.7,1136.6" stroke-width="4"/></g>
<g transform="translate(954.2,447.7)"><g transform="translate(250,200) scale(0.166667)" stroke-width="2">
<path d="M893,318 C862,285 885,200 1025,178 C1140,176 1180,235 1172,275 C1160,330 1070,352 995,350 C955,350 925,362 925,385 Q908,402 913,372 C912,345 950,326 1000,326 C1070,326 1132,312 1142,272 C1148,248 1110,210 1030,210 C950,212 896,262 905,302 Q906,324 893,318 Z"/></g></g>
<g transform="translate(957.5,708.3)"><g transform="translate(250,200) scale(0.166667)" stroke-width="2">
<path d="M893,318 C862,285 885,200 1025,178 C1140,176 1180,235 1172,275 C1160,330 1070,352 995,350 C955,350 925,362 925,385 Q908,402 913,372 C912,345 950,326 1000,326 C1070,326 1132,312 1142,272 C1148,248 1110,210 1030,210 C950,212 896,262 905,302 Q906,324 893,318 Z"/></g></g>
<g transform="translate(1100,650) scale(0.333333)" stroke-width="2"><ellipse cx="432" cy="372" rx="68" ry="30"/><ellipse cx="432" cy="376" rx="48" ry="20"/><path d="M500.0,395.0 L499.8,397.1 L499.3,399.2 L498.5,401.2 L497.4,403.3 L495.9,405.3 L494.1,407.2 L492.0,409.1 L489.7,410.9 L487.0,412.6 L484.1,414.3 L480.9,415.8 L477.5,417.3 L473.9,418.6 L470.0,419.9 L466.0,421.0 L461.8,422.0 L457.5,422.8 L453.0,423.5 L448.5,424.1 L443.8,424.5 L439.1,424.8 L434.4,425.0 L429.6,425.0 L424.9,424.8 L420.2,424.5 L415.5,424.1 L411.0,423.5 L406.5,422.8 L402.2,422.0 L398.0,421.0 L394.0,419.9 L390.1,418.6 L386.5,417.3 L383.1,415.8 L379.9,414.3 L377.0,412.6 L374.3,410.9 L372.0,409.1 L369.9,407.2 L368.1,405.3 L366.6,403.3 L365.5,401.2 L364.7,399.2 L364.2,397.1 L364.0,395.0"/><path d="M364,372 L364,395"/><path d="M500,372 L500,395"/><path d="M215,290 L370,362"/><path d="M212,435 L365,510"/><path d="M608,127 L750,124"/><path d="M648,1005 L765,925"/></g>
<g transform="translate(690,1280) scale(0.101394)" stroke-width="2">
<path d="M320,270 L380,270 L500,195 L520,185 L525,120 L690,110 L730,135 L960,135 L990,115 L1135,160 L1130,230 L1190,290 L1250,300 L1280,330 L1285,410 L1200,430 L1140,550 L1160,580 L1030,630 L1000,610 L800,610 L780,660 L635,660 L590,595 L540,580 L460,620 L360,540 L380,490 L350,400 L310,400 L310,290 Z"/>
<ellipse cx="770" cy="390" rx="270" ry="152"/>
<path d="M530,440 C600,370 700,355 770,355 C870,355 970,380 1000,430"/>
<path d="M310,400 L310,520 C350,640 550,740 740,750 C950,750 1200,640 1280,470 L1285,410"/>
<path d="M505,660 C700,690 900,680 1060,630"/>
<path d="M545,735 L560,785 L740,800 L745,840 C900,830 1150,720 1275,500"/>
<path d="M330,560 C400,620 480,640 520,660"/>
<ellipse cx="777" cy="1190" rx="570" ry="330"/>
<ellipse cx="777" cy="1192" rx="475" ry="272"/>
<ellipse cx="780" cy="1192" rx="360" ry="207"/>
<ellipse cx="777" cy="1182" rx="265" ry="150"/>
<path d="M600,1300 C650,1270 720,1265 775,1265 C850,1265 900,1280 930,1300"/>
<path d="M207,1190 L207,1460 C230,1650 500,1765 777,1765 C1050,1765 1320,1650 1347,1460 L1347,1190"/>
<path d="M0,425 L310,400"/>
<path d="M0,1370 L200,1350"/>
</g>
<g transform="translate(700,1460) scale(0.103274)" stroke-width="2">
<path d="M830,92 C780,80 730,78 675,78 C500,78 385,150 385,240 C385,335 510,410 675,410 C840,410 965,335 965,240 C965,195 945,160 905,135"/>
<path d="M830,118 C780,104 730,102 675,102 C540,102 440,160 440,240 C440,320 540,380 675,380 C810,380 910,320 910,240 C910,205 890,175 860,150"/>
<path d="M800,60 L880,60 L905,85 L860,110 L815,95 Z"/>
<path d="M860,140 L900,110 L960,110 L1000,155 L960,190 L910,170 Z"/>
<path d="M0,262 L380,262"/>
<ellipse cx="665" cy="800" rx="513" ry="298" stroke-width="3.2"/>
<path d="M0,870 L145,870"/>
<path d="M850,1195 C780,1185 700,1185 620,1190 C400,1210 255,1300 255,1440 C255,1600 450,1695 680,1695 C900,1695 1100,1600 1105,1430 L1105,1380 C1090,1330 1050,1330 1000,1330 C930,1335 885,1360 885,1400 C890,1440 940,1470 1030,1475 C1000,1560 860,1600 680,1600 C480,1600 365,1520 365,1420 C365,1300 480,1230 670,1225 C690,1280 720,1325 790,1330 C850,1330 900,1300 900,1255 C900,1220 880,1200 850,1195 Z"/>
<circle class="f" cx="790" cy="1255" r="12"/>
<circle class="f" cx="1000" cy="1400" r="12"/>
<path d="M0,1415 L250,1415" stroke-width="3"/>
<ellipse cx="675" cy="2000" rx="345" ry="200"/>
<ellipse cx="675" cy="2003" rx="265" ry="168"/>
<path d="M430,2030 C500,1950 600,1930 680,1930 C780,1930 880,1960 935,2020"/>
<ellipse cx="678" cy="2022" rx="248" ry="118"/>
<path d="M330,2000 L330,2085 C350,2200 500,2285 675,2285 C850,2285 1000,2200 1020,2085 L1020,2000"/>
<path d="M1110,1915 L1190,1915 L1190,2150 L1110,2150" stroke-width="3"/>
<path d="M0,1995 L320,1995"/>
</g>
<g transform="translate(820,1580) scale(0.158428)" stroke-width="2">
<circle cx="1125" cy="435" r="382"/>
<path d="M985,700 L985,180 C990,158 1050,155 1095,162"/>
<ellipse cx="1145" cy="177" rx="50" ry="24"/>
<path d="M1190,178 L1190,715 C1180,740 1110,740 1092,722"/>
<ellipse cx="1040" cy="712" rx="55" ry="24"/>
<path d="M1085,105 L1085,470 M1085,500 L1085,560 M1085,600 L1085,790"/>
<path class="f" d="M1195,290 L1380,290 L1405,320 L1405,440 L1370,490 L1330,490 L1330,365 L1300,365 L1300,400 L1290,460 L1250,460 L1195,470 Z"/>
<path d="M1200,340 L1230,362 L1200,385 Z" style="fill:#fff;stroke:none"/>
<circle cx="1272" cy="430" r="24" style="fill:#fff;stroke:none"/>
<path d="M1290,340 L1362,340 L1362,462 L1345,462 L1345,355 L1290,355 Z" style="fill:#fff;stroke:none"/>
<path class="f" d="M60,545 L745,440 L745,494 Z"/>
</g>
<g transform="translate(800,1890) scale(0.171116)" stroke-width="2">
<circle cx="1182" cy="437" r="356"/>
<path d="M1025,690 L1025,198 C1030,175 1080,170 1118,185"/>
<ellipse cx="1170" cy="195" rx="48" ry="22"/>
<path d="M1215,195 L1215,695 C1200,720 1145,720 1122,698"/>
<ellipse cx="1070" cy="690" rx="46" ry="21"/>
<path d="M1120,130 L1120,520 M1120,545 L1120,580 M1120,605 L1120,760"/>
<path class="f" d="M1225,410 L1250,385 L1270,385 L1270,420 L1300,420 L1300,325 L1340,325 L1340,360 L1385,385 L1390,490 L1370,540 L1255,540 L1250,510 L1225,470 Z"/>
<path d="M1318,338 L1318,482 L1292,482" style="stroke:#fff" stroke-width="2"/>
<path class="f" d="M90,390 L830,430 L830,490 Z"/>
<path d="M0,330 L45,330 L45,435 L0,435"/>
</g>
<g transform="translate(640,1700) scale(0.139412)" stroke-width="2">
<path d="M400,270 L460,240 C550,150 750,55 935,55 C1150,55 1330,140 1420,235 L1480,260 L1500,300 L1500,380 L1460,400 L1440,420 C1400,500 1200,620 1000,662 L990,680 L990,750 L895,750 L890,680 C700,640 500,520 450,420 L420,390 L395,350 Z"/>
<path d="M420,390 C440,360 460,345 470,340 M1440,420 C1440,380 1450,360 1480,350"/>
<path d="M455,420 C520,540 700,640 935,650 C1170,650 1380,550 1430,430"/>
<ellipse cx="935" cy="280" rx="415" ry="240"/>
<path d="M527,330 C560,460 740,560 935,565 C1130,565 1320,470 1345,330"/>
<ellipse cx="935" cy="272" rx="285" ry="165"/>
<path d="M680,300 C750,230 850,200 935,200 C1050,200 1150,230 1210,290"/>
<path d="M700,330 C780,280 850,265 935,265 C1050,265 1130,290 1180,320"/>
<ellipse cx="452" cy="296" rx="36" ry="21"/>
<ellipse cx="1425" cy="296" rx="36" ry="21"/>
<ellipse cx="940" cy="610" rx="32" ry="20"/>
<path d="M150,580 L150,480 L455,645 L455,520"/>
<ellipse cx="152" cy="636" rx="64" ry="34"/>
<path d="M175,625 C160,615 130,615 125,630 C125,645 150,650 170,645"/>
<path d="M0,630 L88,635"/>
<path d="M122,870 L122,730 C122,720 180,720 180,730 L180,870"/>
<path d="M122,755 L180,755 M122,780 L180,780 M122,805 L180,805 M122,830 L180,830 M122,855 L180,855"/>
<path d="M90,880 L120,860 L180,860 L210,880 L210,935 L180,955 L120,955 L90,935 Z M90,880 L120,900 L180,900 L210,880 M120,900 L120,955 M180,900 L180,955"/>
<path d="M0,905 L90,905" stroke-width="3"/>
<ellipse cx="935" cy="1130" rx="575" ry="332"/>
<path d="M362,1130 L362,1335 C400,1550 650,1665 935,1665 C1250,1665 1480,1550 1510,1335 L1510,1130"/>
<ellipse cx="935" cy="1105" rx="510" ry="272"/>
<path d="M440,1130 C520,1300 700,1365 935,1365 C1180,1365 1400,1290 1440,1130"/>
<ellipse cx="935" cy="1105" rx="350" ry="175"/>
<path d="M590,1120 C620,1200 760,1265 935,1265 C1120,1265 1260,1200 1285,1120"/>
<ellipse cx="940" cy="1065" rx="215" ry="128"/>
<ellipse cx="940" cy="1052" rx="165" ry="95"/>
<path d="M730,1090 C760,1160 850,1195 940,1195 C1040,1195 1130,1160 1155,1090"/>
<ellipse cx="672" cy="1105" rx="30" ry="18"/>
<ellipse cx="790" cy="1212" rx="30" ry="20"/>
<ellipse cx="1040" cy="1222" rx="30" ry="16"/>
<ellipse cx="1185" cy="1025" rx="28" ry="16"/>
<path class="f" d="M895,835 L985,835 L985,862 L895,862 Z"/>
<path d="M15,1330 L355,1280"/>
</g>
<g transform="translate(720,1930) scale(0.069711)" stroke-width="2">
<ellipse cx="710" cy="300" rx="325" ry="175"/>
<ellipse cx="710" cy="315" rx="222" ry="128"/>
<path d="M520,370 C560,300 640,280 710,280 C800,280 870,310 905,360 C870,420 800,440 710,440 C620,440 540,420 520,370"/>
<path d="M385,300 L385,410 C420,520 560,585 710,585 C860,585 1000,520 1035,410 L1035,300"/>
<path d="M390,420 C450,490 560,510 710,510 C860,510 980,480 1020,415"/>
<path d="M1125,240 L1250,240 L1250,490 L1125,490" stroke-width="2.5"/>
<path d="M0,312 L380,330"/>
<path d="M285,860 L380,740 C500,680 600,660 705,660 C820,660 960,690 1050,740 L1125,870 L1125,1150 L1060,1230 L1060,1420 L950,1520 C850,1570 780,1580 705,1580 C600,1580 520,1560 450,1500 L350,1400 L350,1240 L280,1160 L280,860 Z"/>
<ellipse cx="705" cy="900" rx="315" ry="190"/>
<path d="M410,940 C480,780 600,730 705,730 C820,730 940,780 1000,940"/>
<path d="M420,970 C500,830 600,800 705,800 C820,800 920,830 990,970"/>
<path d="M440,990 C520,880 620,865 705,865 C800,865 900,890 960,990"/>
<path d="M480,1020 C560,950 640,940 705,940 C780,940 860,960 920,1020"/>
<path d="M560,1050 C620,1010 670,1005 705,1005 C750,1005 800,1015 850,1050"/>
<path d="M285,990 C400,1120 550,1150 705,1150 C870,1150 1050,1100 1125,990"/>
<path d="M350,1240 C450,1320 600,1350 705,1350 C820,1350 970,1320 1060,1240"/>
<path d="M455,1320 L455,1520 M925,1320 L925,1520" stroke-width="2.5"/>
<path d="M0,1060 L275,1080"/>
</g>
<g><path d="M653.3,1327.3 L721.7,1320.7"/><path d="M653.3,1423.3 L710,1416.7"/><path d="M653.3,1486.7 L740,1486.7"/><path d="M653.3,1552.7 L715,1549.3"/><path d="M653.3,1606 L725,1606" stroke-width="3"/><path d="M653.3,1664 L733,1664"/><path d="M653.3,1733.3 L695,1740"/></g>
<g transform="translate(240,1860) scale(0.164772)" stroke-width="2.3">
<path d="M435,648 L625,355 L662,380 L678,420 L948,262 L998,285 L998,520 L678,700 L678,790 Z"/>
<path d="M485,665 L662,400 L662,380 M662,400 L678,420 M678,455 L998,300 M678,455 L678,420"/>
<path d="M485,665 L435,648"/>
<path d="M678,700 L678,455"/>
</g>
<g><path d="M634.7,483.7 L674.5,489.4"/><path d="M635.2,530.2 L671.9,528.1"/><path d="M634.7,666.5 L672.9,666.5"/><path d="M341.7,571.7 L396.7,561.7"/><path d="M554.6,786.7 L685,796"/><path d="M641.7,1943.3 L746.7,1953.3"/><path d="M641.7,1994 L739.3,2005"/><path d="M603.3,1826 L653.3,1826" stroke-width="2.5"/><path d="M603.3,1784 L653.3,1788.3"/></g>
</g>
<text class="wm" transform="translate(23.8,789.9) rotate(32) scale(1.17,1)" font-size="150">Flood Marine Services</text>
<g transform="translate(287.8,277.1) scale(1.25,1)"><text class="lb" x="0" y="0" font-size="29.6">25</text></g>
<g transform="translate(287.8,343.0) scale(1.25,1)"><text class="lb" x="0" y="0" font-size="29.6">24</text></g>
<g transform="translate(678.1,355.0) scale(1.25,1)"><text class="lb" x="0" y="0" font-size="29.6">2 </text><path d="M24.60,-20.60 L27.12,-20.60 L27.12,0 L24.60,0 L24.60,-15.45 L19.72,-14.74 L19.72,-17.17 Z" fill="#000"/></g>
<g transform="translate(678.1,410.0) scale(1.25,1)"><text class="lb" x="0" y="0" font-size="29.6">20</text></g>
<g transform="translate(679.9,498.0) scale(1.25,1)"><text class="lb" x="0" y="0" font-size="29.6">29</text></g>
<g transform="translate(678.1,538.0) scale(1.25,1)"><text class="lb" x="0" y="0" font-size="29.6">28</text></g>
<g transform="translate(293.1,585.0) scale(1.25,1)"><text class="lb" x="0" y="0" font-size="29.6">25</text></g>
<g transform="translate(679.9,673.0) scale(1.25,1)"><text class="lb" x="0" y="0" font-size="29.6">29</text></g>
<g transform="translate(874.1,440.0) scale(1.25,1)"><text class="lb" x="0" y="0" font-size="29.6">4</text></g>
<g transform="translate(873.5,480.0) scale(1.25,1)"><text class="lb" x="0" y="0" font-size="29.6">5</text></g>
<g transform="translate(955.2,481.7) scale(1.25,1)"><text class="lb" x="0" y="0" font-size="29.6">3</text></g>
<g transform="translate(881.4,601.7) scale(1.25,1)"><text class="lb" x="0" y="0" font-size="29.6">6</text></g>
<g transform="translate(878.9,730.0) scale(1.25,1)"><text class="lb" x="0" y="0" font-size="29.6"> </text><path d="M8.14,-20.60 L10.66,-20.60 L10.66,0 L8.14,0 L8.14,-15.45 L3.26,-14.74 L3.26,-17.17 Z" fill="#000"/></g>
<g transform="translate(1016.4,745.0) scale(1.25,1)"><text class="lb" x="0" y="0" font-size="29.6">26</text></g>
<g transform="translate(913.1,803.3) scale(1.25,1)"><text class="lb" x="0" y="0" font-size="29.6">27</text></g>
<g transform="translate(1126.5,751.7) scale(1.25,1)"><text class="lb" x="0" y="0" font-size="29.6">29</text></g>
<g transform="translate(1124.2,801.7) scale(1.25,1)"><text class="lb" x="0" y="0" font-size="29.6">28</text></g>
<g transform="translate(1257.5,703.3) scale(1.25,1)"><text class="lb" x="0" y="0" font-size="29.6">25</text></g>
<g transform="translate(1257.5,753.3) scale(1.25,1)"><text class="lb" x="0" y="0" font-size="29.6">24</text></g>
<g transform="translate(1413.2,745.0) scale(1.25,1)"><text class="lb" x="0" y="0" font-size="29.6">22</text></g>
<g transform="translate(1467.5,741.7) scale(1.25,1)"><text class="lb" x="0" y="0" font-size="29.6">23</text></g>
<g transform="translate(1124.9,961.7) scale(1.25,1)"><text class="lb" x="0" y="0" font-size="29.6">29</text></g>
<g transform="translate(1272.2,999.3) scale(1.25,1)"><text class="lb" x="0" y="0" font-size="29.6">25</text></g>
<g transform="translate(1006.5,982.0) scale(1.25,1)"><text class="lb" x="0" y="0" font-size="29.6">30</text></g>
<g transform="translate(279.8,755.0) scale(1.25,1)"><text class="lb" x="0" y="0" font-size="29.6">26</text></g>
<g transform="translate(565.2,778.3) scale(1.25,1)"><text class="lb" x="0" y="0" font-size="29.6">30</text></g>
<g transform="translate(325.4,898.3) scale(1.25,1)"><text class="lb" x="0" y="0" font-size="29.6">27</text></g>
<g transform="translate(328.1,1103.3) scale(1.25,1)"><text class="lb" x="0" y="0" font-size="29.6">2</text></g>
<g transform="translate(1056.2,1128.8) scale(1.25,1)"><text class="lb" x="0" y="0" font-size="29.6">7</text></g>
<g transform="translate(1056.2,1255.6) scale(1.25,1)"><text class="lb" x="0" y="0" font-size="29.6">7</text></g>
<g transform="translate(625.0,1336.7) scale(1.25,1)"><text class="lb" x="0" y="0" font-size="29.6">8</text></g>
<g transform="translate(625.6,1434.0) scale(1.25,1)"><text class="lb" x="0" y="0" font-size="29.6">9</text></g>
<g transform="translate(609.9,1496.7) scale(1.25,1)"><text class="lb" x="0" y="0" font-size="29.6"> 0</text><path d="M8.14,-20.60 L10.66,-20.60 L10.66,0 L8.14,0 L8.14,-15.45 L3.26,-14.74 L3.26,-17.17 Z" fill="#000"/></g>
<g transform="translate(609.9,1563.3) scale(1.25,1)"><text class="lb" x="0" y="0" font-size="29.6"> 7</text><path d="M8.14,-20.60 L10.66,-20.60 L10.66,0 L8.14,0 L8.14,-15.45 L3.26,-14.74 L3.26,-17.17 Z" fill="#000"/></g>
<g transform="translate(609.9,1618.3) scale(1.25,1)"><text class="lb" x="0" y="0" font-size="29.6"> 6</text><path d="M8.14,-20.60 L10.66,-20.60 L10.66,0 L8.14,0 L8.14,-15.45 L3.26,-14.74 L3.26,-17.17 Z" fill="#000"/></g>
<g transform="translate(609.9,1675.0) scale(1.25,1)"><text class="lb" x="0" y="0" font-size="29.6"> 5</text><path d="M8.14,-20.60 L10.66,-20.60 L10.66,0 L8.14,0 L8.14,-15.45 L3.26,-14.74 L3.26,-17.17 Z" fill="#000"/></g>
<g transform="translate(609.9,1742.7) scale(1.25,1)"><text class="lb" x="0" y="0" font-size="29.6"> 4</text><path d="M8.14,-20.60 L10.66,-20.60 L10.66,0 L8.14,0 L8.14,-15.45 L3.26,-14.74 L3.26,-17.17 Z" fill="#000"/></g>
<g transform="translate(557.9,1792.7) scale(1.25,1)"><text class="lb" x="0" y="0" font-size="29.6"> 9</text><path d="M8.14,-20.60 L10.66,-20.60 L10.66,0 L8.14,0 L8.14,-15.45 L3.26,-14.74 L3.26,-17.17 Z" fill="#000"/></g>
<g transform="translate(557.9,1843.3) scale(1.25,1)"><text class="lb" x="0" y="0" font-size="29.6"> 8</text><path d="M8.14,-20.60 L10.66,-20.60 L10.66,0 L8.14,0 L8.14,-15.45 L3.26,-14.74 L3.26,-17.17 Z" fill="#000"/></g>
<g transform="translate(598.9,1896.7) scale(1.25,1)"><text class="lb" x="0" y="0" font-size="29.6">  </text><path d="M8.14,-20.60 L10.66,-20.60 L10.66,0 L8.14,0 L8.14,-15.45 L3.26,-14.74 L3.26,-17.17 Z" fill="#000"/><path d="M24.60,-20.60 L27.12,-20.60 L27.12,0 L24.60,0 L24.60,-15.45 L19.72,-14.74 L19.72,-17.17 Z" fill="#000"/></g>
<g transform="translate(598.9,1956.7) scale(1.25,1)"><text class="lb" x="0" y="0" font-size="29.6"> 3</text><path d="M8.14,-20.60 L10.66,-20.60 L10.66,0 L8.14,0 L8.14,-15.45 L3.26,-14.74 L3.26,-17.17 Z" fill="#000"/></g>
<g transform="translate(598.9,2005.0) scale(1.25,1)"><text class="lb" x="0" y="0" font-size="29.6"> 2</text><path d="M8.14,-20.60 L10.66,-20.60 L10.66,0 L8.14,0 L8.14,-15.45 L3.26,-14.74 L3.26,-17.17 Z" fill="#000"/></g>
<g transform="translate(261.4,2030.5) scale(1.246,1)"><text class="lb" x="0" y="0" font-size="25.9">66X2 00-3030</text><path d="M67.61,-18.03 L69.81,-18.03 L69.81,0 L67.61,0 L67.61,-13.52 L63.33,-12.90 L63.33,-15.02 Z" fill="#000"/></g>
<text transform="translate(346.3,1968.7) skewY(-26) scale(0.6,1)" font-family="Liberation Sans" font-weight="bold" font-size="36">FWD</text>
<rect x="1512" y="2267.5" width="200" height="80" fill="none" stroke="#000" stroke-width="3.5"/><text class="b1" transform="translate(1575.6,2343) scale(0.96,1)" font-size="104">B</text><path d="M1664.6,2285.6 L1675.4,2285.6 L1675.4,2338.9 L1664.6,2338.9 L1664.6,2296.6 L1651.9,2302.3 L1651.9,2294.3 Z" fill="#000"/>
</svg>
</body></html>
